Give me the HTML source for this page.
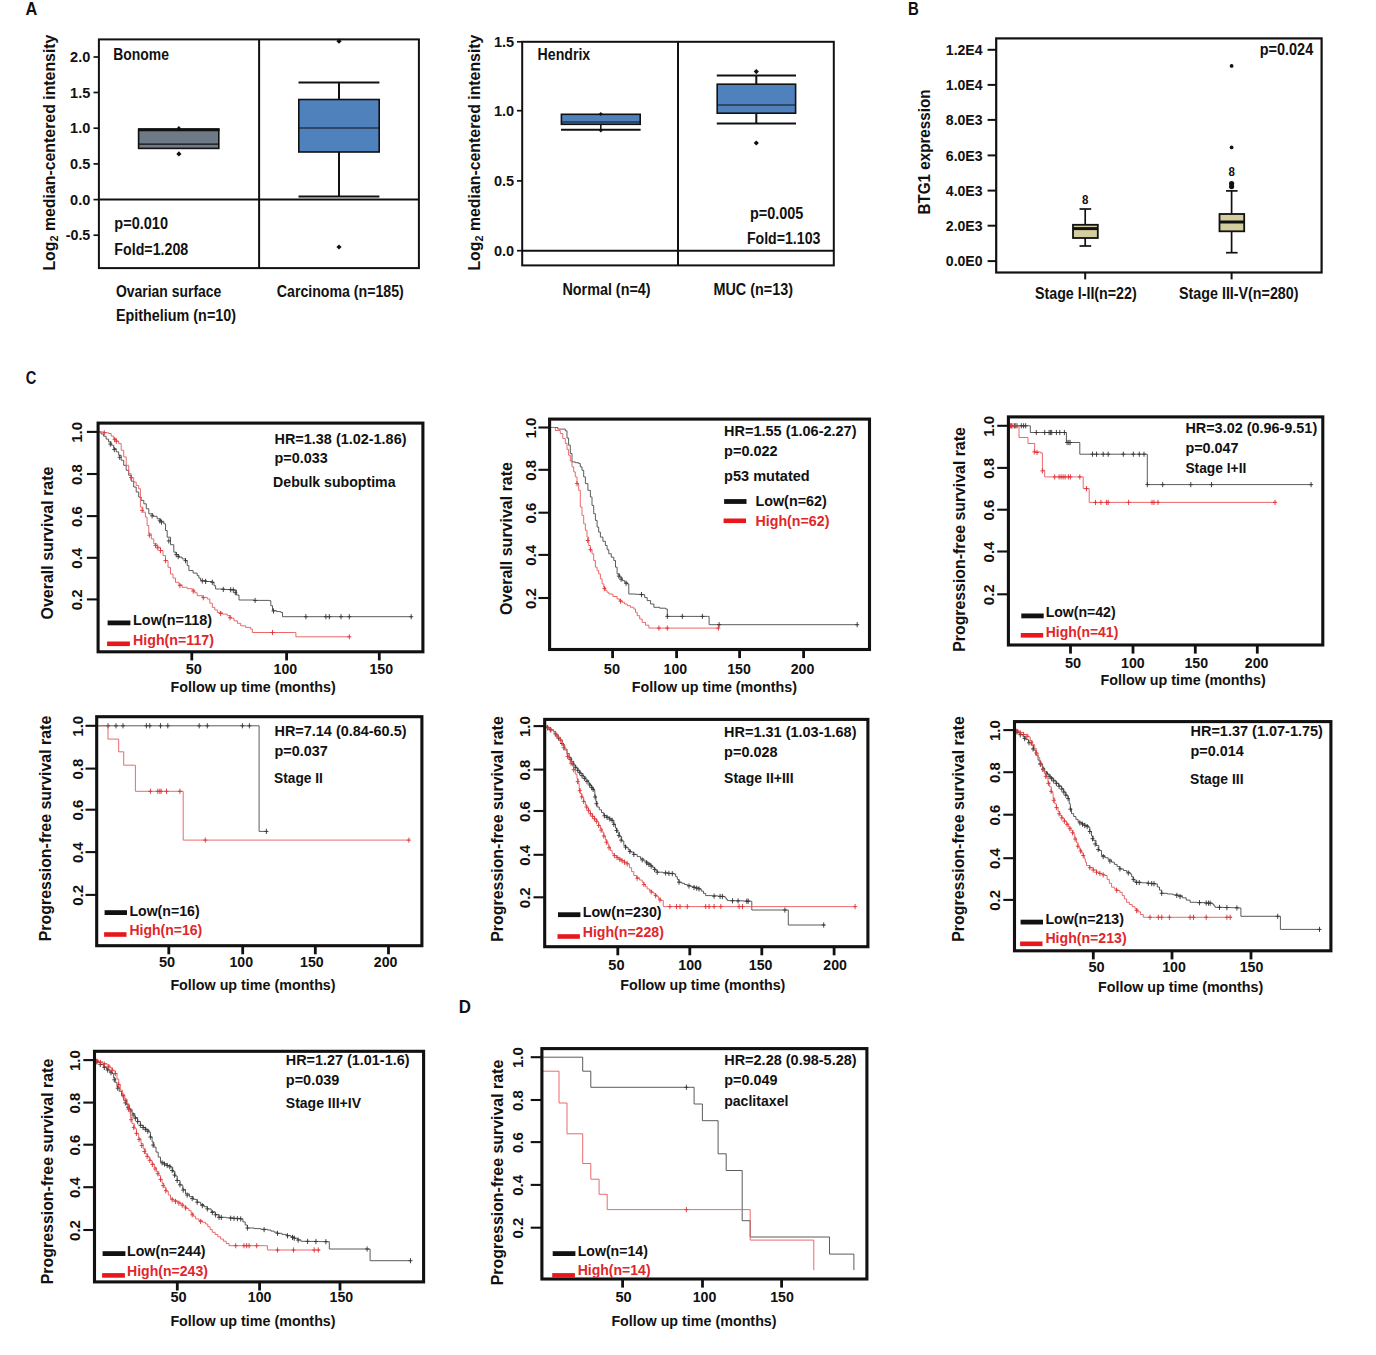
<!DOCTYPE html>
<html><head><meta charset="utf-8"><title>Figure</title>
<style>
html,body{margin:0;padding:0;background:#fff}
svg{display:block;font-family:"Liberation Sans",sans-serif;font-weight:bold}
</style></head><body>
<svg width="1376" height="1355" viewBox="0 0 1376 1355">
<rect width="1376" height="1355" fill="#fff"/>
<text x="25.5" y="15.0" font-size="17.6" fill="#111" text-anchor="start" textLength="11.8" lengthAdjust="spacingAndGlyphs">A</text>
<text x="908.0" y="15.0" font-size="17.6" fill="#111" text-anchor="start" textLength="10.8" lengthAdjust="spacingAndGlyphs">B</text>
<text x="25.7" y="384.4" font-size="17.6" fill="#111" text-anchor="start" textLength="10.6" lengthAdjust="spacingAndGlyphs">C</text>
<text x="458.7" y="1013.0" font-size="17.6" fill="#111" text-anchor="start" textLength="12.2" lengthAdjust="spacingAndGlyphs">D</text>
<rect x="98.9" y="39.4" width="320.0" height="228.7" fill="none" stroke="#111" stroke-width="2"/>
<line x1="259.1" y1="39.4" x2="259.1" y2="268.1" stroke="#111" stroke-width="2" stroke-linecap="butt"/>
<line x1="98.9" y1="199.6" x2="418.9" y2="199.6" stroke="#111" stroke-width="2" stroke-linecap="butt"/>
<line x1="93.5" y1="57.0" x2="98.9" y2="57.0" stroke="#111" stroke-width="1.7" stroke-linecap="butt"/>
<text x="90.3" y="62.1" font-size="15.2" fill="#111" text-anchor="end" textLength="20.2" lengthAdjust="spacingAndGlyphs">2.0</text>
<line x1="93.5" y1="92.5" x2="98.9" y2="92.5" stroke="#111" stroke-width="1.7" stroke-linecap="butt"/>
<text x="90.3" y="97.6" font-size="15.2" fill="#111" text-anchor="end" textLength="20.2" lengthAdjust="spacingAndGlyphs">1.5</text>
<line x1="93.5" y1="128.2" x2="98.9" y2="128.2" stroke="#111" stroke-width="1.7" stroke-linecap="butt"/>
<text x="90.3" y="133.3" font-size="15.2" fill="#111" text-anchor="end" textLength="20.2" lengthAdjust="spacingAndGlyphs">1.0</text>
<line x1="93.5" y1="163.9" x2="98.9" y2="163.9" stroke="#111" stroke-width="1.7" stroke-linecap="butt"/>
<text x="90.3" y="169.0" font-size="15.2" fill="#111" text-anchor="end" textLength="20.2" lengthAdjust="spacingAndGlyphs">0.5</text>
<line x1="93.5" y1="199.6" x2="98.9" y2="199.6" stroke="#111" stroke-width="1.7" stroke-linecap="butt"/>
<text x="90.3" y="204.7" font-size="15.2" fill="#111" text-anchor="end" textLength="20.2" lengthAdjust="spacingAndGlyphs">0.0</text>
<line x1="93.5" y1="235.2" x2="98.9" y2="235.2" stroke="#111" stroke-width="1.7" stroke-linecap="butt"/>
<text x="90.3" y="240.3" font-size="15.2" fill="#111" text-anchor="end" textLength="24.6" lengthAdjust="spacingAndGlyphs">-0.5</text>
<text transform="translate(55.1,152.6) rotate(-90)" font-size="16" fill="#111" text-anchor="middle" textLength="236.0" lengthAdjust="spacingAndGlyphs">Log<tspan font-size="11" dy="3">2</tspan><tspan dy="-3"> median-centered intensity</tspan></text>
<text x="113.3" y="60.0" font-size="16" fill="#111" text-anchor="start" textLength="55.6" lengthAdjust="spacingAndGlyphs">Bonome</text>
<text x="114.3" y="228.9" font-size="16" fill="#111" text-anchor="start" textLength="53.7" lengthAdjust="spacingAndGlyphs">p=0.010</text>
<text x="114.3" y="255.2" font-size="16" fill="#111" text-anchor="start" textLength="74.0" lengthAdjust="spacingAndGlyphs">Fold=1.208</text>
<text x="116.0" y="296.8" font-size="16" fill="#111" text-anchor="start" textLength="105.3" lengthAdjust="spacingAndGlyphs">Ovarian surface</text>
<text x="116.0" y="320.7" font-size="16" fill="#111" text-anchor="start" textLength="120.0" lengthAdjust="spacingAndGlyphs">Epithelium (n=10)</text>
<text x="276.8" y="296.6" font-size="16" fill="#111" text-anchor="start" textLength="127.0" lengthAdjust="spacingAndGlyphs">Carcinoma (n=185)</text>
<rect x="138.6" y="129.2" width="80.2" height="19.2" fill="#6e7a86" stroke="#111" stroke-width="1.6"/>
<line x1="138.0" y1="129.8" x2="219.5" y2="129.8" stroke="#111" stroke-width="3" stroke-linecap="butt"/>
<line x1="138.6" y1="144.2" x2="218.8" y2="144.2" stroke="#111" stroke-width="1.2" stroke-linecap="butt"/>
<polygon points="176.7,128.3 178.9,126.1 181.1,128.3 178.9,130.5" fill="#111"/>
<polygon points="176.3,153.9 178.9,151.3 181.5,153.9 178.9,156.5" fill="#111"/>
<line x1="339.0" y1="82.6" x2="339.0" y2="196.6" stroke="#111" stroke-width="2" stroke-linecap="butt"/>
<line x1="298.5" y1="82.6" x2="379.4" y2="82.6" stroke="#111" stroke-width="2" stroke-linecap="butt"/>
<line x1="298.5" y1="196.6" x2="379.4" y2="196.6" stroke="#111" stroke-width="2" stroke-linecap="butt"/>
<rect x="298.8" y="99.5" width="80.4" height="52.5" fill="#4f81bd" stroke="#111" stroke-width="1.6"/>
<line x1="298.8" y1="128.0" x2="379.2" y2="128.0" stroke="#111" stroke-width="1.2" stroke-linecap="butt"/>
<polygon points="336.4,41.2 339.0,38.6 341.6,41.2 339.0,43.8" fill="#111"/>
<polygon points="336.4,247.0 339.0,244.4 341.6,247.0 339.0,249.6" fill="#111"/>
<rect x="522.2" y="41.8" width="311.6" height="223.6" fill="none" stroke="#111" stroke-width="2"/>
<line x1="678.0" y1="41.8" x2="678.0" y2="265.4" stroke="#111" stroke-width="2" stroke-linecap="butt"/>
<line x1="522.2" y1="250.7" x2="833.8" y2="250.7" stroke="#111" stroke-width="2" stroke-linecap="butt"/>
<line x1="517.0" y1="41.8" x2="522.2" y2="41.8" stroke="#111" stroke-width="1.7" stroke-linecap="butt"/>
<text x="514.2" y="46.9" font-size="15.2" fill="#111" text-anchor="end" textLength="20.2" lengthAdjust="spacingAndGlyphs">1.5</text>
<line x1="517.0" y1="110.7" x2="522.2" y2="110.7" stroke="#111" stroke-width="1.7" stroke-linecap="butt"/>
<text x="514.2" y="115.8" font-size="15.2" fill="#111" text-anchor="end" textLength="20.2" lengthAdjust="spacingAndGlyphs">1.0</text>
<line x1="517.0" y1="180.9" x2="522.2" y2="180.9" stroke="#111" stroke-width="1.7" stroke-linecap="butt"/>
<text x="514.2" y="186.0" font-size="15.2" fill="#111" text-anchor="end" textLength="20.2" lengthAdjust="spacingAndGlyphs">0.5</text>
<line x1="517.0" y1="250.7" x2="522.2" y2="250.7" stroke="#111" stroke-width="1.7" stroke-linecap="butt"/>
<text x="514.2" y="255.8" font-size="15.2" fill="#111" text-anchor="end" textLength="20.2" lengthAdjust="spacingAndGlyphs">0.0</text>
<text transform="translate(480.1,152.6) rotate(-90)" font-size="16" fill="#111" text-anchor="middle" textLength="236.0" lengthAdjust="spacingAndGlyphs">Log<tspan font-size="11" dy="3">2</tspan><tspan dy="-3"> median-centered intensity</tspan></text>
<text x="537.6" y="60.0" font-size="16" fill="#111" text-anchor="start" textLength="52.6" lengthAdjust="spacingAndGlyphs">Hendrix</text>
<text x="749.9" y="219.0" font-size="16" fill="#111" text-anchor="start" textLength="53.4" lengthAdjust="spacingAndGlyphs">p=0.005</text>
<text x="746.9" y="243.6" font-size="16" fill="#111" text-anchor="start" textLength="73.5" lengthAdjust="spacingAndGlyphs">Fold=1.103</text>
<text x="562.4" y="294.9" font-size="16" fill="#111" text-anchor="start" textLength="88.2" lengthAdjust="spacingAndGlyphs">Normal (n=4)</text>
<text x="713.5" y="294.9" font-size="16" fill="#111" text-anchor="start" textLength="79.5" lengthAdjust="spacingAndGlyphs">MUC (n=13)</text>
<line x1="600.8" y1="114.0" x2="600.8" y2="130.0" stroke="#111" stroke-width="1.5" stroke-linecap="butt"/>
<line x1="561.0" y1="129.7" x2="640.6" y2="129.7" stroke="#111" stroke-width="2" stroke-linecap="butt"/>
<rect x="561.4" y="114.3" width="78.8" height="10.0" fill="#4f81bd" stroke="#111" stroke-width="1.6"/>
<line x1="561.4" y1="122.0" x2="640.2" y2="122.0" stroke="#111" stroke-width="1.2" stroke-linecap="butt"/>
<polygon points="598.8,114.0 600.8,112.0 602.8,114.0 600.8,116.0" fill="#111"/>
<polygon points="598.8,130.6 600.8,128.7 602.8,130.6 600.8,132.5" fill="#111"/>
<line x1="756.3" y1="75.6" x2="756.3" y2="123.4" stroke="#111" stroke-width="2" stroke-linecap="butt"/>
<line x1="716.8" y1="75.6" x2="796.0" y2="75.6" stroke="#111" stroke-width="2" stroke-linecap="butt"/>
<line x1="716.8" y1="123.4" x2="796.0" y2="123.4" stroke="#111" stroke-width="2" stroke-linecap="butt"/>
<rect x="717.2" y="84.2" width="78.4" height="29.0" fill="#4f81bd" stroke="#111" stroke-width="1.6"/>
<line x1="717.2" y1="105.0" x2="795.6" y2="105.0" stroke="#111" stroke-width="1" stroke-linecap="butt"/>
<polygon points="753.7,71.6 756.3,69.0 758.9,71.6 756.3,74.2" fill="#111"/>
<polygon points="753.7,143.0 756.3,140.4 758.9,143.0 756.3,145.6" fill="#111"/>
<rect x="996.2" y="38.4" width="325.4" height="234.1" fill="none" stroke="#111" stroke-width="2.2"/>
<line x1="987.6" y1="49.8" x2="996.2" y2="49.8" stroke="#111" stroke-width="2" stroke-linecap="butt"/>
<text x="945.8" y="55.0" font-size="15.2" fill="#111" text-anchor="start" textLength="36.8" lengthAdjust="spacingAndGlyphs">1.2E4</text>
<line x1="987.6" y1="84.9" x2="996.2" y2="84.9" stroke="#111" stroke-width="2" stroke-linecap="butt"/>
<text x="945.8" y="90.1" font-size="15.2" fill="#111" text-anchor="start" textLength="36.8" lengthAdjust="spacingAndGlyphs">1.0E4</text>
<line x1="987.6" y1="119.9" x2="996.2" y2="119.9" stroke="#111" stroke-width="2" stroke-linecap="butt"/>
<text x="945.8" y="125.1" font-size="15.2" fill="#111" text-anchor="start" textLength="36.8" lengthAdjust="spacingAndGlyphs">8.0E3</text>
<line x1="987.6" y1="155.4" x2="996.2" y2="155.4" stroke="#111" stroke-width="2" stroke-linecap="butt"/>
<text x="945.8" y="160.6" font-size="15.2" fill="#111" text-anchor="start" textLength="36.8" lengthAdjust="spacingAndGlyphs">6.0E3</text>
<line x1="987.6" y1="190.6" x2="996.2" y2="190.6" stroke="#111" stroke-width="2" stroke-linecap="butt"/>
<text x="945.8" y="195.8" font-size="15.2" fill="#111" text-anchor="start" textLength="36.8" lengthAdjust="spacingAndGlyphs">4.0E3</text>
<line x1="987.6" y1="225.7" x2="996.2" y2="225.7" stroke="#111" stroke-width="2" stroke-linecap="butt"/>
<text x="945.8" y="230.9" font-size="15.2" fill="#111" text-anchor="start" textLength="36.8" lengthAdjust="spacingAndGlyphs">2.0E3</text>
<line x1="987.6" y1="261.1" x2="996.2" y2="261.1" stroke="#111" stroke-width="2" stroke-linecap="butt"/>
<text x="945.8" y="266.3" font-size="15.2" fill="#111" text-anchor="start" textLength="36.8" lengthAdjust="spacingAndGlyphs">0.0E0</text>
<text transform="translate(929.6,152.0) rotate(-90)" font-size="16.2" fill="#111" text-anchor="middle" textLength="125.0" lengthAdjust="spacingAndGlyphs">BTG1 expression</text>
<text x="1259.7" y="54.6" font-size="16" fill="#111" text-anchor="start" textLength="53.5" lengthAdjust="spacingAndGlyphs">p=0.024</text>
<line x1="1085.2" y1="272.5" x2="1085.2" y2="279.4" stroke="#111" stroke-width="2" stroke-linecap="butt"/>
<line x1="1231.6" y1="272.5" x2="1231.6" y2="279.4" stroke="#111" stroke-width="2" stroke-linecap="butt"/>
<text x="1035.0" y="298.6" font-size="16" fill="#111" text-anchor="start" textLength="101.7" lengthAdjust="spacingAndGlyphs">Stage I-II(n=22)</text>
<text x="1179.1" y="298.6" font-size="16" fill="#111" text-anchor="start" textLength="119.4" lengthAdjust="spacingAndGlyphs">Stage III-V(n=280)</text>
<line x1="1085.2" y1="209.0" x2="1085.2" y2="246.0" stroke="#111" stroke-width="1.7" stroke-linecap="butt"/>
<line x1="1079.5" y1="209.0" x2="1091.2" y2="209.0" stroke="#111" stroke-width="1.7" stroke-linecap="butt"/>
<line x1="1079.5" y1="246.0" x2="1091.2" y2="246.0" stroke="#111" stroke-width="1.7" stroke-linecap="butt"/>
<rect x="1073.0" y="224.8" width="24.8" height="13.2" fill="#d3cda0" stroke="#111" stroke-width="1.8"/>
<line x1="1073.0" y1="228.6" x2="1097.8" y2="228.6" stroke="#111" stroke-width="3" stroke-linecap="butt"/>
<text x="1085.2" y="203.6" font-size="12.5" fill="#111" text-anchor="middle" textLength="6.4" lengthAdjust="spacingAndGlyphs">8</text>
<line x1="1231.6" y1="190.9" x2="1231.6" y2="252.7" stroke="#111" stroke-width="1.7" stroke-linecap="butt"/>
<line x1="1226.0" y1="190.9" x2="1237.6" y2="190.9" stroke="#111" stroke-width="1.7" stroke-linecap="butt"/>
<line x1="1226.0" y1="252.7" x2="1237.6" y2="252.7" stroke="#111" stroke-width="1.7" stroke-linecap="butt"/>
<rect x="1219.5" y="214.0" width="24.7" height="17.3" fill="#d3cda0" stroke="#111" stroke-width="1.8"/>
<line x1="1219.5" y1="222.0" x2="1244.2" y2="222.0" stroke="#111" stroke-width="3" stroke-linecap="butt"/>
<text x="1231.6" y="175.8" font-size="12.5" fill="#111" text-anchor="middle" textLength="6.4" lengthAdjust="spacingAndGlyphs">8</text>
<circle cx="1231.6" cy="183.5" r="2.6" fill="#111"/>
<circle cx="1231.6" cy="186.6" r="2.6" fill="#111"/>
<circle cx="1231.6" cy="65.9" r="1.9" fill="#111"/>
<circle cx="1231.6" cy="147.4" r="1.9" fill="#111"/>
<path d="M98.6,431.9 L101.1,431.9 L101.1,434.0 L103.6,434.0 L103.6,436.2 L106.1,436.2 L106.1,439.1 L108.6,439.1 L108.6,441.9 L111.2,441.9 L111.2,445.2 L113.7,445.2 L113.7,448.6 L116.2,448.6 L116.2,451.9 L118.7,451.9 L118.7,455.3 L121.2,455.3 L121.2,460.3 L123.7,460.3 L123.7,465.3 L126.2,465.3 L126.2,470.3 L128.7,470.3 L128.7,475.3 L131.2,475.3 L131.2,481.2 L133.7,481.2 L133.7,487.0 L136.2,487.0 L136.2,492.0 L138.7,492.0 L138.7,497.1 L141.2,497.1 L141.2,500.4 L143.8,500.4 L143.8,503.8 L146.3,503.8 L146.3,508.8 L148.8,508.8 L148.8,513.8 L152.9,513.8 L152.9,516.3 L157.1,516.3 L157.1,518.8 L160.5,518.8 L160.5,521.3 L163.8,521.3 L163.8,523.8 L165.5,523.8 L165.5,530.5 L167.2,530.5 L167.2,537.2 L170.5,537.2 L170.5,544.7 L173.8,544.7 L173.8,552.2 L176.3,552.2 L176.3,554.7 L178.9,554.7 L178.9,557.2 L182.2,557.2 L182.2,558.9 L185.5,558.9 L185.5,560.6 L187.2,560.6 L187.2,565.6 L188.9,565.6 L188.9,570.6 L193.1,570.6 L193.1,573.1 L197.2,573.1 L197.2,575.6 L198.9,575.6 L198.9,578.1 L200.6,578.1 L200.6,580.6 L206.4,580.6 L206.4,581.5 L212.3,581.5 L212.3,582.3 L214.0,582.3 L214.0,585.7 L215.6,585.7 L215.6,589.0 L224.8,589.0 L224.8,589.5 L234.0,589.5 L234.0,590.0 L236.5,590.0 L236.5,595.0 L239.0,595.0 L239.0,600.0 L254.1,600.0 L254.1,600.4 L269.1,600.4 L269.1,600.7 L270.8,600.7 L270.8,605.7 L272.5,605.7 L272.5,610.7 L276.6,610.7 L276.6,611.6 L280.8,611.6 L280.8,612.4 L282.5,612.4 L282.5,616.7 L411.9,616.7" fill="none" stroke="#4a4a4a" stroke-width="0.9" stroke-linejoin="miter"/>
<path d="M108.3,444.1h4M110.3,441.5v5.2M112.3,449.5h4M114.3,446.9v5.2M117.7,457.3h4M119.7,454.7v5.2M150.1,515.8h4M152.1,513.2v5.2M157.8,520.8h4M159.8,518.2v5.2M159.5,522.1h4M161.5,519.5v5.2M166.8,540.9h4M168.8,538.3v5.2M174.2,554.6h4M176.2,552.0v5.2M176.2,556.6h4M178.2,554.0v5.2M183.5,560.6h4M185.5,558.0v5.2M200.3,580.9h4M202.3,578.3v5.2M203.6,581.4h4M205.6,578.8v5.2M210.3,582.3h4M212.3,579.7v5.2M221.3,589.4h4M223.3,586.8v5.2M228.7,589.8h4M230.7,587.2v5.2M231.3,590.0h4M233.3,587.4v5.2M233.3,592.7h4M235.3,590.1v5.2M253.1,600.4h4M255.1,597.8v5.2M271.5,610.9h4M273.5,608.3v5.2M303.9,616.7h4M305.9,614.1v5.2M323.9,616.7h4M325.9,614.1v5.2M327.3,616.7h4M329.3,614.1v5.2M339.0,616.7h4M341.0,614.1v5.2M347.3,616.7h4M349.3,614.1v5.2M409.2,616.7h4M411.2,614.1v5.2" fill="none" stroke="#333" stroke-width="0.9"/>
<path d="M98.6,431.9 L103.6,431.9 L103.6,432.7 L108.6,432.7 L108.6,433.5 L111.2,433.5 L111.2,436.1 L113.7,436.1 L113.7,438.6 L116.2,438.6 L116.2,441.1 L118.7,441.1 L118.7,443.6 L121.2,443.6 L121.2,450.3 L123.7,450.3 L123.7,456.9 L126.2,456.9 L126.2,465.3 L128.7,465.3 L128.7,473.7 L131.2,473.7 L131.2,477.8 L133.7,477.8 L133.7,482.0 L136.2,482.0 L136.2,485.4 L138.7,485.4 L138.7,488.7 L140.4,488.7 L140.4,507.1 L142.9,507.1 L142.9,512.1 L145.4,512.1 L145.4,517.1 L147.1,517.1 L147.1,525.5 L148.8,525.5 L148.8,533.8 L151.3,533.8 L151.3,538.9 L153.8,538.9 L153.8,543.9 L157.1,543.9 L157.1,547.2 L160.5,547.2 L160.5,550.6 L163.0,550.6 L163.0,555.6 L165.5,555.6 L165.5,560.6 L168.0,560.6 L168.0,567.3 L170.5,567.3 L170.5,574.0 L173.0,574.0 L173.0,578.1 L175.5,578.1 L175.5,582.3 L178.9,582.3 L178.9,584.8 L182.2,584.8 L182.2,587.3 L187.2,587.3 L187.2,588.7 L192.2,588.7 L192.2,590.0 L194.7,590.0 L194.7,592.8 L197.2,592.8 L197.2,595.7 L202.3,595.7 L202.3,597.4 L207.3,597.4 L207.3,599.0 L209.8,599.0 L209.8,603.2 L212.3,603.2 L212.3,607.4 L214.8,607.4 L214.8,609.9 L217.3,609.9 L217.3,612.4 L222.3,612.4 L222.3,614.1 L227.3,614.1 L227.3,615.7 L230.7,615.7 L230.7,618.2 L234.0,618.2 L234.0,620.8 L237.4,620.8 L237.4,623.3 L240.7,623.3 L240.7,625.8 L245.7,625.8 L245.7,627.4 L250.7,627.4 L250.7,629.1 L252.4,629.1 L252.4,632.5 L294.2,632.5 L295.9,632.5 L295.9,636.8 L350.3,636.8" fill="none" stroke="#e85a5c" stroke-width="0.9" stroke-linejoin="miter"/>
<path d="M102.3,432.8h4M104.3,430.2v5.2M112.7,439.6h4M114.7,437.0v5.2M114.3,441.2h4M116.3,438.6v5.2M129.0,477.6h4M131.0,475.0v5.2M140.1,510.4h4M142.1,507.8v5.2M147.4,535.2h4M149.4,532.6v5.2M153.5,545.5h4M155.5,542.9v5.2M155.8,547.9h4M157.8,545.3v5.2M158.5,550.6h4M160.5,548.0v5.2M163.5,560.6h4M165.5,558.0v5.2M177.9,585.6h4M179.9,583.0v5.2M191.2,591.1h4M193.2,588.5v5.2M201.3,597.7h4M203.3,595.1v5.2M218.6,613.5h4M220.6,610.9v5.2M228.0,617.7h4M230.0,615.1v5.2M270.5,632.5h4M272.5,629.9v5.2M347.3,636.8h4M349.3,634.2v5.2" fill="none" stroke="#e03034" stroke-width="0.9"/>
<rect x="98.1" y="423.1" width="324.8" height="228.7" fill="none" stroke="#111" stroke-width="3.1"/>
<line x1="86.9" y1="431.9" x2="98.1" y2="431.9" stroke="#111" stroke-width="2.1" stroke-linecap="butt"/>
<text transform="translate(81.8,432.4) rotate(-90)" font-size="15.2" fill="#111" text-anchor="middle" textLength="20.8" lengthAdjust="spacingAndGlyphs">1.0</text>
<line x1="86.9" y1="474.0" x2="98.1" y2="474.0" stroke="#111" stroke-width="2.1" stroke-linecap="butt"/>
<text transform="translate(81.8,474.5) rotate(-90)" font-size="15.2" fill="#111" text-anchor="middle" textLength="20.8" lengthAdjust="spacingAndGlyphs">0.8</text>
<line x1="86.9" y1="516.1" x2="98.1" y2="516.1" stroke="#111" stroke-width="2.1" stroke-linecap="butt"/>
<text transform="translate(81.8,516.6) rotate(-90)" font-size="15.2" fill="#111" text-anchor="middle" textLength="20.8" lengthAdjust="spacingAndGlyphs">0.6</text>
<line x1="86.9" y1="557.8" x2="98.1" y2="557.8" stroke="#111" stroke-width="2.1" stroke-linecap="butt"/>
<text transform="translate(81.8,558.3) rotate(-90)" font-size="15.2" fill="#111" text-anchor="middle" textLength="20.8" lengthAdjust="spacingAndGlyphs">0.4</text>
<line x1="86.9" y1="599.4" x2="98.1" y2="599.4" stroke="#111" stroke-width="2.1" stroke-linecap="butt"/>
<text transform="translate(81.8,599.9) rotate(-90)" font-size="15.2" fill="#111" text-anchor="middle" textLength="20.8" lengthAdjust="spacingAndGlyphs">0.2</text>
<text transform="translate(52.6,543.0) rotate(-90)" font-size="16.5" fill="#111" text-anchor="middle" textLength="153.0" lengthAdjust="spacingAndGlyphs">Overall survival rate</text>
<line x1="191.8" y1="651.8" x2="191.8" y2="660.4" stroke="#111" stroke-width="2.8" stroke-linecap="butt"/>
<text x="193.8" y="673.8" font-size="15.2" fill="#111" text-anchor="middle" textLength="16.2" lengthAdjust="spacingAndGlyphs">50</text>
<line x1="286.6" y1="651.8" x2="286.6" y2="660.4" stroke="#111" stroke-width="2.8" stroke-linecap="butt"/>
<text x="285.4" y="673.8" font-size="15.2" fill="#111" text-anchor="middle" textLength="23.6" lengthAdjust="spacingAndGlyphs">100</text>
<line x1="379.3" y1="651.8" x2="379.3" y2="660.4" stroke="#111" stroke-width="2.8" stroke-linecap="butt"/>
<text x="381.3" y="673.8" font-size="15.2" fill="#111" text-anchor="middle" textLength="23.6" lengthAdjust="spacingAndGlyphs">150</text>
<text x="170.6" y="691.9" font-size="15" fill="#111" text-anchor="start" textLength="165.2" lengthAdjust="spacingAndGlyphs">Follow up time (months)</text>
<text x="274.5" y="443.6" font-size="15.2" fill="#111" text-anchor="start" textLength="132.0" lengthAdjust="spacingAndGlyphs">HR=1.38 (1.02-1.86)</text>
<text x="274.5" y="463.4" font-size="15.2" fill="#111" text-anchor="start" textLength="53.2" lengthAdjust="spacingAndGlyphs">p=0.033</text>
<text x="273.1" y="487.2" font-size="15.2" fill="#111" text-anchor="start" textLength="122.4" lengthAdjust="spacingAndGlyphs">Debulk suboptima</text>
<rect x="107.6" y="620.5" width="22.8" height="4.8" fill="#111"/>
<rect x="107.1" y="641.5" width="22.8" height="4.6" fill="#e8171c"/>
<text x="133.0" y="625.3" font-size="14.8" fill="#111" text-anchor="start" textLength="79.0" lengthAdjust="spacingAndGlyphs">Low(n=118)</text>
<text x="133.0" y="644.8" font-size="14.8" fill="#e0262a" text-anchor="start" textLength="81.0" lengthAdjust="spacingAndGlyphs">High(n=117)</text>
<path d="M550.3,427.5 L557.8,427.5 L557.8,429.1 L565.3,429.1 L565.3,430.8 L567.0,430.8 L567.0,438.0 L568.6,438.0 L568.6,445.2 L570.3,445.2 L570.3,453.5 L572.0,453.5 L572.0,461.9 L575.3,461.9 L575.3,462.7 L578.7,462.7 L578.7,463.6 L580.3,463.6 L580.3,466.9 L582.0,466.9 L582.0,470.3 L583.7,470.3 L583.7,476.9 L585.4,476.9 L585.4,483.6 L587.9,483.6 L587.9,490.3 L590.4,490.3 L590.4,497.0 L592.0,497.0 L592.0,505.4 L593.7,505.4 L593.7,513.7 L595.4,513.7 L595.4,520.4 L597.1,520.4 L597.1,527.1 L598.7,527.1 L598.7,532.1 L600.4,532.1 L600.4,537.1 L602.9,537.1 L602.9,541.3 L605.4,541.3 L605.4,545.5 L607.1,545.5 L607.1,549.7 L608.8,549.7 L608.8,553.8 L611.3,553.8 L611.3,557.2 L613.8,557.2 L613.8,560.5 L615.5,560.5 L615.5,567.2 L617.1,567.2 L617.1,573.9 L619.6,573.9 L619.6,577.2 L622.1,577.2 L622.1,580.6 L624.6,580.6 L624.6,582.3 L627.2,582.3 L627.2,583.9 L628.8,583.9 L628.8,594.0 L635.5,594.0 L635.5,594.3 L642.2,594.3 L642.2,594.6 L644.7,594.6 L644.7,597.6 L647.2,597.6 L647.2,600.6 L650.6,600.6 L650.6,604.0 L653.9,604.0 L653.9,607.3 L659.7,607.3 L659.7,608.2 L665.6,608.2 L665.6,609.0 L667.3,609.0 L667.3,616.4 L707.4,616.4 L709.1,616.4 L709.1,624.7 L857.8,624.7" fill="none" stroke="#4a4a4a" stroke-width="0.9" stroke-linejoin="miter"/>
<path d="M616.8,576.1h4M618.8,573.5v5.2M619.1,579.2h4M621.1,576.6v5.2M624.1,583.3h4M626.1,580.7v5.2M639.5,594.6h4M641.5,592.0v5.2M665.3,616.4h4M667.3,613.8v5.2M680.3,616.4h4M682.3,613.8v5.2M700.4,616.4h4M702.4,613.8v5.2M717.1,624.7h4M719.1,622.1v5.2M855.2,624.7h4M857.2,622.1v5.2" fill="none" stroke="#333" stroke-width="0.9"/>
<path d="M550.3,427.5 L555.3,427.5 L555.3,430.5 L560.3,430.5 L560.3,433.5 L562.8,433.5 L562.8,438.5 L565.3,438.5 L565.3,443.5 L567.0,443.5 L567.0,449.4 L568.6,449.4 L568.6,455.2 L570.3,455.2 L570.3,461.1 L572.0,461.1 L572.0,466.9 L573.7,466.9 L573.7,471.9 L575.3,471.9 L575.3,476.9 L577.0,476.9 L577.0,483.6 L578.7,483.6 L578.7,490.3 L580.3,490.3 L580.3,507.0 L582.0,507.0 L582.0,515.4 L583.7,515.4 L583.7,523.8 L585.4,523.8 L585.4,530.4 L587.0,530.4 L587.0,537.1 L588.7,537.1 L588.7,545.5 L590.4,545.5 L590.4,549.7 L592.0,549.7 L592.0,553.8 L593.7,553.8 L593.7,560.5 L595.4,560.5 L595.4,567.2 L597.1,567.2 L597.1,570.6 L598.7,570.6 L598.7,573.9 L600.4,573.9 L600.4,578.9 L602.1,578.9 L602.1,583.9 L603.8,583.9 L603.8,587.3 L605.4,587.3 L605.4,590.6 L607.1,590.6 L607.1,592.3 L608.8,592.3 L608.8,594.0 L612.9,594.0 L612.9,596.5 L617.1,596.5 L617.1,599.0 L619.6,599.0 L619.6,600.6 L622.1,600.6 L622.1,602.3 L624.6,602.3 L624.6,604.0 L627.2,604.0 L627.2,605.7 L630.5,605.7 L630.5,607.3 L633.8,607.3 L633.8,609.0 L635.5,609.0 L635.5,612.3 L637.2,612.3 L637.2,615.7 L639.7,615.7 L639.7,619.0 L642.2,619.0 L642.2,622.4 L645.5,622.4 L645.5,625.2 L648.9,625.2 L648.9,628.1 L719.1,628.1" fill="none" stroke="#e85a5c" stroke-width="0.9" stroke-linejoin="miter"/>
<path d="M575.0,483.6h4M577.0,481.0v5.2M585.7,540.5h4M587.7,537.9v5.2M588.4,549.7h4M590.4,547.1v5.2M602.4,588.6h4M604.4,586.0v5.2M618.5,601.2h4M620.5,598.6v5.2M656.9,628.1h4M658.9,625.5v5.2M665.3,628.1h4M667.3,625.5v5.2M716.4,628.1h4M718.4,625.5v5.2" fill="none" stroke="#e03034" stroke-width="0.9"/>
<rect x="549.6" y="419.1" width="319.9" height="230.4" fill="none" stroke="#111" stroke-width="3.1"/>
<line x1="538.4" y1="427.5" x2="549.6" y2="427.5" stroke="#111" stroke-width="2.1" stroke-linecap="butt"/>
<text transform="translate(535.8,428.0) rotate(-90)" font-size="15.2" fill="#111" text-anchor="middle" textLength="20.8" lengthAdjust="spacingAndGlyphs">1.0</text>
<line x1="538.4" y1="469.8" x2="549.6" y2="469.8" stroke="#111" stroke-width="2.1" stroke-linecap="butt"/>
<text transform="translate(535.8,470.3) rotate(-90)" font-size="15.2" fill="#111" text-anchor="middle" textLength="20.8" lengthAdjust="spacingAndGlyphs">0.8</text>
<line x1="538.4" y1="512.7" x2="549.6" y2="512.7" stroke="#111" stroke-width="2.1" stroke-linecap="butt"/>
<text transform="translate(535.8,513.2) rotate(-90)" font-size="15.2" fill="#111" text-anchor="middle" textLength="20.8" lengthAdjust="spacingAndGlyphs">0.6</text>
<line x1="538.4" y1="554.9" x2="549.6" y2="554.9" stroke="#111" stroke-width="2.1" stroke-linecap="butt"/>
<text transform="translate(535.8,555.4) rotate(-90)" font-size="15.2" fill="#111" text-anchor="middle" textLength="20.8" lengthAdjust="spacingAndGlyphs">0.4</text>
<line x1="538.4" y1="598.0" x2="549.6" y2="598.0" stroke="#111" stroke-width="2.1" stroke-linecap="butt"/>
<text transform="translate(535.8,598.5) rotate(-90)" font-size="15.2" fill="#111" text-anchor="middle" textLength="20.8" lengthAdjust="spacingAndGlyphs">0.2</text>
<text transform="translate(511.8,538.5) rotate(-90)" font-size="16.5" fill="#111" text-anchor="middle" textLength="153.0" lengthAdjust="spacingAndGlyphs">Overall survival rate</text>
<line x1="612.6" y1="649.5" x2="612.6" y2="658.1" stroke="#111" stroke-width="2.8" stroke-linecap="butt"/>
<text x="611.9" y="673.8" font-size="15.2" fill="#111" text-anchor="middle" textLength="16.2" lengthAdjust="spacingAndGlyphs">50</text>
<line x1="676.6" y1="649.5" x2="676.6" y2="658.1" stroke="#111" stroke-width="2.8" stroke-linecap="butt"/>
<text x="675.4" y="673.8" font-size="15.2" fill="#111" text-anchor="middle" textLength="23.6" lengthAdjust="spacingAndGlyphs">100</text>
<line x1="739.6" y1="649.5" x2="739.6" y2="658.1" stroke="#111" stroke-width="2.8" stroke-linecap="butt"/>
<text x="739.0" y="673.8" font-size="15.2" fill="#111" text-anchor="middle" textLength="23.6" lengthAdjust="spacingAndGlyphs">150</text>
<line x1="803.6" y1="649.5" x2="803.6" y2="658.1" stroke="#111" stroke-width="2.8" stroke-linecap="butt"/>
<text x="802.5" y="673.8" font-size="15.2" fill="#111" text-anchor="middle" textLength="23.6" lengthAdjust="spacingAndGlyphs">200</text>
<text x="631.8" y="691.9" font-size="15" fill="#111" text-anchor="start" textLength="165.2" lengthAdjust="spacingAndGlyphs">Follow up time (months)</text>
<text x="724.1" y="436.2" font-size="15.2" fill="#111" text-anchor="start" textLength="132.4" lengthAdjust="spacingAndGlyphs">HR=1.55 (1.06-2.27)</text>
<text x="724.1" y="456.0" font-size="15.2" fill="#111" text-anchor="start" textLength="53.5" lengthAdjust="spacingAndGlyphs">p=0.022</text>
<text x="724.1" y="481.1" font-size="15.2" fill="#111" text-anchor="start" textLength="85.6" lengthAdjust="spacingAndGlyphs">p53 mutated</text>
<rect x="724.1" y="499.1" width="22.4" height="4.8" fill="#111"/>
<rect x="723.6" y="518.5" width="22.4" height="4.6" fill="#e8171c"/>
<text x="755.5" y="506.4" font-size="14.8" fill="#111" text-anchor="start" textLength="71.2" lengthAdjust="spacingAndGlyphs">Low(n=62)</text>
<text x="755.5" y="525.8" font-size="14.8" fill="#e0262a" text-anchor="start" textLength="73.9" lengthAdjust="spacingAndGlyphs">High(n=62)</text>
<path d="M1008.9,425.8 L1029.7,425.8 L1030.3,425.8 L1030.3,432.5 L1065.8,432.5 L1066.4,432.5 L1066.4,442.5 L1079.1,442.5 L1079.8,442.5 L1079.8,454.2 L1146.0,454.2 L1147.3,454.2 L1147.3,484.6 L1312.1,484.6" fill="none" stroke="#4a4a4a" stroke-width="0.9" stroke-linejoin="miter"/>
<path d="M1009.3,425.8h4M1011.3,423.2v5.2M1012.6,425.8h4M1014.6,423.2v5.2M1015.0,425.8h4M1017.0,423.2v5.2M1019.3,425.8h4M1021.3,423.2v5.2M1021.6,425.8h4M1023.6,423.2v5.2M1023.7,425.8h4M1025.7,423.2v5.2M1034.3,432.5h4M1036.3,429.9v5.2M1042.7,432.5h4M1044.7,429.9v5.2M1047.1,432.5h4M1049.1,429.9v5.2M1048.4,432.5h4M1050.4,429.9v5.2M1049.7,432.5h4M1051.7,429.9v5.2M1054.4,432.5h4M1056.4,429.9v5.2M1057.8,432.5h4M1059.8,429.9v5.2M1062.4,432.5h4M1064.4,429.9v5.2M1065.1,442.5h4M1067.1,439.9v5.2M1066.8,442.5h4M1068.8,439.9v5.2M1068.1,442.5h4M1070.1,439.9v5.2M1090.5,454.2h4M1092.5,451.6v5.2M1094.5,454.2h4M1096.5,451.6v5.2M1101.2,454.2h4M1103.2,451.6v5.2M1106.2,454.2h4M1108.2,451.6v5.2M1121.3,454.2h4M1123.3,451.6v5.2M1131.3,454.2h4M1133.3,451.6v5.2M1137.3,454.2h4M1139.3,451.6v5.2M1142.0,454.2h4M1144.0,451.6v5.2M1145.3,484.6h4M1147.3,482.0v5.2M1160.7,484.6h4M1162.7,482.0v5.2M1188.8,484.6h4M1190.8,482.0v5.2M1209.5,484.6h4M1211.5,482.0v5.2M1309.1,484.6h4M1311.1,482.0v5.2" fill="none" stroke="#333" stroke-width="0.9"/>
<path d="M1008.9,425.8 L1018.0,425.8 L1019.0,425.8 L1019.0,437.5 L1026.3,437.5 L1028.0,437.5 L1028.0,443.5 L1033.0,443.5 L1034.7,443.5 L1034.7,451.9 L1040.4,451.9 L1040.4,452.9 L1042.4,452.9 L1042.4,470.3 L1044.7,470.3 L1044.7,476.9 L1081.5,476.9 L1083.2,476.9 L1083.2,488.6 L1088.2,488.6 L1089.2,488.6 L1089.2,502.4 L1277.0,502.4" fill="none" stroke="#e85a5c" stroke-width="0.9" stroke-linejoin="miter"/>
<path d="M1008.6,425.8h4M1010.6,423.2v5.2M1010.9,425.8h4M1012.9,423.2v5.2M1013.6,425.8h4M1015.6,423.2v5.2M1032.3,451.9h4M1034.3,449.3v5.2M1035.0,452.5h4M1037.0,449.9v5.2M1040.4,470.9h4M1042.4,468.3v5.2M1052.7,476.9h4M1054.7,474.3v5.2M1057.1,476.9h4M1059.1,474.3v5.2M1059.1,476.9h4M1061.1,474.3v5.2M1061.1,476.9h4M1063.1,474.3v5.2M1063.1,476.9h4M1065.1,474.3v5.2M1066.4,476.9h4M1068.4,474.3v5.2M1068.4,476.9h4M1070.4,474.3v5.2M1077.8,476.9h4M1079.8,474.3v5.2M1084.5,488.6h4M1086.5,486.0v5.2M1093.5,502.4h4M1095.5,499.8v5.2M1098.9,502.4h4M1100.9,499.8v5.2M1104.6,502.4h4M1106.6,499.8v5.2M1106.2,502.4h4M1108.2,499.8v5.2M1126.6,502.4h4M1128.6,499.8v5.2M1150.0,502.4h4M1152.0,499.8v5.2M1152.0,502.4h4M1154.0,499.8v5.2M1156.0,502.4h4M1158.0,499.8v5.2M1273.0,502.4h4M1275.0,499.8v5.2" fill="none" stroke="#e03034" stroke-width="0.9"/>
<rect x="1008.4" y="416.9" width="314.4" height="228.1" fill="none" stroke="#111" stroke-width="3.1"/>
<line x1="997.2" y1="425.8" x2="1008.4" y2="425.8" stroke="#111" stroke-width="2.1" stroke-linecap="butt"/>
<text transform="translate(994.1,426.3) rotate(-90)" font-size="15.2" fill="#111" text-anchor="middle" textLength="20.8" lengthAdjust="spacingAndGlyphs">1.0</text>
<line x1="997.2" y1="467.9" x2="1008.4" y2="467.9" stroke="#111" stroke-width="2.1" stroke-linecap="butt"/>
<text transform="translate(994.1,468.4) rotate(-90)" font-size="15.2" fill="#111" text-anchor="middle" textLength="20.8" lengthAdjust="spacingAndGlyphs">0.8</text>
<line x1="997.2" y1="509.7" x2="1008.4" y2="509.7" stroke="#111" stroke-width="2.1" stroke-linecap="butt"/>
<text transform="translate(994.1,510.2) rotate(-90)" font-size="15.2" fill="#111" text-anchor="middle" textLength="20.8" lengthAdjust="spacingAndGlyphs">0.6</text>
<line x1="997.2" y1="551.5" x2="1008.4" y2="551.5" stroke="#111" stroke-width="2.1" stroke-linecap="butt"/>
<text transform="translate(994.1,552.0) rotate(-90)" font-size="15.2" fill="#111" text-anchor="middle" textLength="20.8" lengthAdjust="spacingAndGlyphs">0.4</text>
<line x1="997.2" y1="594.3" x2="1008.4" y2="594.3" stroke="#111" stroke-width="2.1" stroke-linecap="butt"/>
<text transform="translate(994.1,594.8) rotate(-90)" font-size="15.2" fill="#111" text-anchor="middle" textLength="20.8" lengthAdjust="spacingAndGlyphs">0.2</text>
<text transform="translate(964.5,539.5) rotate(-90)" font-size="16.5" fill="#111" text-anchor="middle" textLength="224.5" lengthAdjust="spacingAndGlyphs">Progression-free survival rate</text>
<line x1="1070.5" y1="645.0" x2="1070.5" y2="653.6" stroke="#111" stroke-width="2.8" stroke-linecap="butt"/>
<text x="1073.1" y="668.0" font-size="15.2" fill="#111" text-anchor="middle" textLength="16.2" lengthAdjust="spacingAndGlyphs">50</text>
<line x1="1133.0" y1="645.0" x2="1133.0" y2="653.6" stroke="#111" stroke-width="2.8" stroke-linecap="butt"/>
<text x="1132.9" y="668.0" font-size="15.2" fill="#111" text-anchor="middle" textLength="23.6" lengthAdjust="spacingAndGlyphs">100</text>
<line x1="1195.3" y1="645.0" x2="1195.3" y2="653.6" stroke="#111" stroke-width="2.8" stroke-linecap="butt"/>
<text x="1196.3" y="668.0" font-size="15.2" fill="#111" text-anchor="middle" textLength="23.6" lengthAdjust="spacingAndGlyphs">150</text>
<line x1="1257.3" y1="645.0" x2="1257.3" y2="653.6" stroke="#111" stroke-width="2.8" stroke-linecap="butt"/>
<text x="1256.6" y="668.0" font-size="15.2" fill="#111" text-anchor="middle" textLength="23.6" lengthAdjust="spacingAndGlyphs">200</text>
<text x="1100.6" y="684.7" font-size="15" fill="#111" text-anchor="start" textLength="165.2" lengthAdjust="spacingAndGlyphs">Follow up time (months)</text>
<text x="1185.4" y="432.8" font-size="15.2" fill="#111" text-anchor="start" textLength="131.8" lengthAdjust="spacingAndGlyphs">HR=3.02 (0.96-9.51)</text>
<text x="1185.4" y="452.7" font-size="15.2" fill="#111" text-anchor="start" textLength="53.2" lengthAdjust="spacingAndGlyphs">p=0.047</text>
<text x="1185.4" y="472.7" font-size="15.2" fill="#111" text-anchor="start" textLength="60.9" lengthAdjust="spacingAndGlyphs">Stage I+II</text>
<rect x="1021.3" y="613.5" width="22.4" height="4.8" fill="#111"/>
<rect x="1020.8" y="633.0" width="22.4" height="4.6" fill="#e8171c"/>
<text x="1045.7" y="617.4" font-size="14.8" fill="#111" text-anchor="start" textLength="69.9" lengthAdjust="spacingAndGlyphs">Low(n=42)</text>
<text x="1045.7" y="636.7" font-size="14.8" fill="#e0262a" text-anchor="start" textLength="72.6" lengthAdjust="spacingAndGlyphs">High(n=41)</text>
<path d="M96.9,725.8 L259.1,725.8 L259.1,831.4 L267.4,831.4" fill="none" stroke="#4a4a4a" stroke-width="0.9" stroke-linejoin="miter"/>
<path d="M106.0,725.8h4M108.0,723.2v5.2M114.0,725.8h4M116.0,723.2v5.2M121.0,725.8h4M123.0,723.2v5.2M144.4,725.8h4M146.4,723.2v5.2M147.8,725.8h4M149.8,723.2v5.2M158.5,725.8h4M160.5,723.2v5.2M165.8,725.8h4M167.8,723.2v5.2M197.2,725.8h4M199.2,723.2v5.2M205.3,725.8h4M207.3,723.2v5.2M240.4,725.8h4M242.4,723.2v5.2M247.4,725.8h4M249.4,723.2v5.2M264.4,831.4h4M266.4,828.8v5.2" fill="none" stroke="#333" stroke-width="0.9"/>
<path d="M96.9,725.8 L108.0,725.8 L108.0,739.1 L118.7,739.1 L118.7,751.8 L123.7,751.8 L123.7,765.2 L134.4,765.2 L135.4,765.2 L135.4,791.3 L183.2,791.3 L183.2,840.1 L409.5,840.1" fill="none" stroke="#e85a5c" stroke-width="0.9" stroke-linejoin="miter"/>
<path d="M148.4,791.3h4M150.4,788.7v5.2M155.8,791.3h4M157.8,788.7v5.2M157.8,791.3h4M159.8,788.7v5.2M159.1,791.3h4M161.1,788.7v5.2M164.5,791.3h4M166.5,788.7v5.2M177.9,791.3h4M179.9,788.7v5.2M203.3,840.1h4M205.3,837.5v5.2M406.9,840.1h4M408.9,837.5v5.2" fill="none" stroke="#e03034" stroke-width="0.9"/>
<rect x="96.7" y="716.7" width="325.2" height="229.0" fill="none" stroke="#111" stroke-width="3.1"/>
<line x1="85.5" y1="725.8" x2="96.7" y2="725.8" stroke="#111" stroke-width="2.1" stroke-linecap="butt"/>
<text transform="translate(82.7,726.3) rotate(-90)" font-size="15.2" fill="#111" text-anchor="middle" textLength="20.8" lengthAdjust="spacingAndGlyphs">1.0</text>
<line x1="85.5" y1="768.6" x2="96.7" y2="768.6" stroke="#111" stroke-width="2.1" stroke-linecap="butt"/>
<text transform="translate(82.7,769.1) rotate(-90)" font-size="15.2" fill="#111" text-anchor="middle" textLength="20.8" lengthAdjust="spacingAndGlyphs">0.8</text>
<line x1="85.5" y1="809.7" x2="96.7" y2="809.7" stroke="#111" stroke-width="2.1" stroke-linecap="butt"/>
<text transform="translate(82.7,810.2) rotate(-90)" font-size="15.2" fill="#111" text-anchor="middle" textLength="20.8" lengthAdjust="spacingAndGlyphs">0.6</text>
<line x1="85.5" y1="852.1" x2="96.7" y2="852.1" stroke="#111" stroke-width="2.1" stroke-linecap="butt"/>
<text transform="translate(82.7,852.6) rotate(-90)" font-size="15.2" fill="#111" text-anchor="middle" textLength="20.8" lengthAdjust="spacingAndGlyphs">0.4</text>
<line x1="85.5" y1="894.9" x2="96.7" y2="894.9" stroke="#111" stroke-width="2.1" stroke-linecap="butt"/>
<text transform="translate(82.7,895.4) rotate(-90)" font-size="15.2" fill="#111" text-anchor="middle" textLength="20.8" lengthAdjust="spacingAndGlyphs">0.2</text>
<text transform="translate(51.1,828.5) rotate(-90)" font-size="16.5" fill="#111" text-anchor="middle" textLength="225.5" lengthAdjust="spacingAndGlyphs">Progression-free survival rate</text>
<line x1="168.8" y1="945.7" x2="168.8" y2="954.3" stroke="#111" stroke-width="2.8" stroke-linecap="butt"/>
<text x="167.1" y="966.8" font-size="15.2" fill="#111" text-anchor="middle" textLength="16.2" lengthAdjust="spacingAndGlyphs">50</text>
<line x1="242.7" y1="945.7" x2="242.7" y2="954.3" stroke="#111" stroke-width="2.8" stroke-linecap="butt"/>
<text x="241.3" y="966.8" font-size="15.2" fill="#111" text-anchor="middle" textLength="23.6" lengthAdjust="spacingAndGlyphs">100</text>
<line x1="315.3" y1="945.7" x2="315.3" y2="954.3" stroke="#111" stroke-width="2.8" stroke-linecap="butt"/>
<text x="311.9" y="966.8" font-size="15.2" fill="#111" text-anchor="middle" textLength="23.6" lengthAdjust="spacingAndGlyphs">150</text>
<line x1="388.5" y1="945.7" x2="388.5" y2="954.3" stroke="#111" stroke-width="2.8" stroke-linecap="butt"/>
<text x="385.6" y="966.8" font-size="15.2" fill="#111" text-anchor="middle" textLength="23.6" lengthAdjust="spacingAndGlyphs">200</text>
<text x="170.4" y="990.4" font-size="15" fill="#111" text-anchor="start" textLength="165.2" lengthAdjust="spacingAndGlyphs">Follow up time (months)</text>
<text x="274.5" y="736.1" font-size="15.2" fill="#111" text-anchor="start" textLength="132.0" lengthAdjust="spacingAndGlyphs">HR=7.14 (0.84-60.5)</text>
<text x="274.5" y="756.3" font-size="15.2" fill="#111" text-anchor="start" textLength="53.2" lengthAdjust="spacingAndGlyphs">p=0.037</text>
<text x="274.1" y="782.7" font-size="15.2" fill="#111" text-anchor="start" textLength="48.8" lengthAdjust="spacingAndGlyphs">Stage II</text>
<rect x="104.6" y="910.2" width="22.4" height="4.8" fill="#111"/>
<rect x="104.1" y="932.2" width="22.4" height="4.6" fill="#e8171c"/>
<text x="129.4" y="915.7" font-size="14.8" fill="#111" text-anchor="start" textLength="70.2" lengthAdjust="spacingAndGlyphs">Low(n=16)</text>
<text x="129.4" y="935.0" font-size="14.8" fill="#e0262a" text-anchor="start" textLength="72.9" lengthAdjust="spacingAndGlyphs">High(n=16)</text>
<path d="M545.2,726.1 L548.0,726.1 L548.0,728.0 L550.8,728.0 L550.8,729.9 L553.6,729.9 L553.6,731.8 L555.8,731.8 L555.8,734.6 L558.1,734.6 L558.1,737.4 L560.3,737.4 L560.3,740.1 L562.5,740.1 L562.5,744.6 L564.7,744.6 L564.7,749.1 L567.0,749.1 L567.0,753.5 L569.2,753.5 L569.2,757.4 L571.4,757.4 L571.4,761.3 L573.7,761.3 L573.7,765.2 L575.9,765.2 L575.9,768.0 L578.1,768.0 L578.1,770.8 L580.3,770.8 L580.3,773.6 L583.1,773.6 L583.1,776.9 L585.9,776.9 L585.9,780.3 L588.7,780.3 L588.7,783.6 L590.4,783.6 L590.4,785.8 L592.0,785.8 L592.0,788.1 L593.7,788.1 L593.7,790.3 L594.8,790.3 L594.8,795.9 L595.9,795.9 L595.9,801.4 L597.1,801.4 L597.1,807.0 L599.3,807.0 L599.3,809.8 L601.5,809.8 L601.5,812.6 L603.8,812.6 L603.8,815.4 L606.5,815.4 L606.5,817.0 L609.3,817.0 L609.3,818.7 L612.1,818.7 L612.1,820.4 L613.8,820.4 L613.8,824.3 L615.5,824.3 L615.5,828.2 L617.1,828.2 L617.1,832.1 L619.4,832.1 L619.4,836.5 L621.6,836.5 L621.6,841.0 L623.8,841.0 L623.8,845.5 L626.0,845.5 L626.0,847.7 L628.3,847.7 L628.3,849.9 L630.5,849.9 L630.5,852.1 L633.8,852.1 L633.8,854.4 L637.2,854.4 L637.2,856.6 L640.5,856.6 L640.5,858.8 L643.9,858.8 L643.9,861.1 L647.2,861.1 L647.2,863.3 L650.6,863.3 L650.6,865.5 L652.8,865.5 L652.8,867.7 L655.0,867.7 L655.0,870.0 L657.2,870.0 L657.2,872.2 L662.8,872.2 L662.8,872.8 L668.4,872.8 L668.4,873.3 L674.0,873.3 L674.0,873.9 L675.6,873.9 L675.6,876.7 L677.3,876.7 L677.3,879.4 L679.0,879.4 L679.0,882.2 L681.8,882.2 L681.8,883.3 L684.5,883.3 L684.5,884.5 L687.3,884.5 L687.3,885.6 L691.2,885.6 L691.2,886.7 L695.1,886.7 L695.1,887.8 L699.0,887.8 L699.0,888.9 L701.3,888.9 L701.3,891.1 L703.5,891.1 L703.5,893.4 L705.7,893.4 L705.7,895.6 L711.8,895.6 L711.8,895.9 L718.0,895.9 L718.0,896.3 L724.1,896.3 L724.1,896.6 L725.2,896.6 L725.2,897.9 L726.3,897.9 L726.3,899.3 L727.4,899.3 L727.4,900.6 L735.2,900.6 L735.2,900.8 L743.0,900.8 L743.0,901.1 L750.8,901.1 L750.8,901.3 L751.8,901.3 L751.8,910.0 L785.9,910.0 L788.3,910.0 L788.3,925.0 L825.1,925.0" fill="none" stroke="#4a4a4a" stroke-width="0.9" stroke-linejoin="miter"/>
<path d="M545.6,727.7h4M547.6,725.1v5.2M548.3,729.5h4M550.3,726.9v5.2M553.3,733.9h4M555.3,731.3v5.2M556.6,738.1h4M558.6,735.5v5.2M560.0,743.5h4M562.0,740.9v5.2M568.3,759.4h4M570.3,756.8v5.2M571.0,764.0h4M573.0,761.4v5.2M573.3,767.3h4M575.3,764.7v5.2M575.7,770.2h4M577.7,767.6v5.2M577.7,772.7h4M579.7,770.1v5.2M580.0,775.6h4M582.0,773.0v5.2M582.4,778.4h4M584.4,775.8v5.2M585.0,781.6h4M587.0,779.0v5.2M587.7,784.9h4M589.7,782.3v5.2M589.7,787.6h4M591.7,785.0v5.2M591.1,789.4h4M593.1,786.8v5.2M593.1,797.0h4M595.1,794.4v5.2M594.4,803.7h4M596.4,801.1v5.2M602.4,815.8h4M604.4,813.2v5.2M605.1,817.4h4M607.1,814.8v5.2M607.8,819.0h4M609.8,816.4v5.2M610.1,820.4h4M612.1,817.8v5.2M611.8,824.3h4M613.8,821.7v5.2M614.5,830.5h4M616.5,827.9v5.2M616.8,835.4h4M618.8,832.8v5.2M619.1,840.1h4M621.1,837.5v5.2M623.5,847.1h4M625.5,844.5v5.2M627.8,851.5h4M629.8,848.9v5.2M631.8,854.4h4M633.8,851.8v5.2M640.2,859.9h4M642.2,857.3v5.2M644.5,862.8h4M646.5,860.2v5.2M646.9,864.4h4M648.9,861.8v5.2M649.2,866.2h4M651.2,863.6v5.2M652.6,869.5h4M654.6,866.9v5.2M655.2,872.2h4M657.2,869.6v5.2M663.6,873.0h4M665.6,870.4v5.2M666.9,873.4h4M668.9,870.8v5.2M670.3,873.7h4M672.3,871.1v5.2M677.0,882.2h4M679.0,879.6v5.2M687.0,886.0h4M689.0,883.4v5.2M692.0,887.5h4M694.0,884.9v5.2M694.7,888.2h4M696.7,885.6v5.2M697.0,888.9h4M699.0,886.3v5.2M712.1,896.1h4M714.1,893.5v5.2M718.1,896.4h4M720.1,893.8v5.2M720.4,896.5h4M722.4,893.9v5.2M730.5,900.8h4M732.5,898.2v5.2M736.1,900.9h4M738.1,898.3v5.2M744.8,901.2h4M746.8,898.6v5.2M746.2,901.2h4M748.2,898.6v5.2M782.9,910.0h4M784.9,907.4v5.2M821.7,925.0h4M823.7,922.4v5.2" fill="none" stroke="#333" stroke-width="0.9"/>
<path d="M545.2,726.1 L548.0,726.1 L548.0,728.0 L550.8,728.0 L550.8,729.9 L553.6,729.9 L553.6,731.8 L555.8,731.8 L555.8,734.6 L558.1,734.6 L558.1,737.4 L560.3,737.4 L560.3,740.1 L562.5,740.1 L562.5,745.2 L564.7,745.2 L564.7,750.2 L567.0,750.2 L567.0,755.2 L568.6,755.2 L568.6,758.5 L570.3,758.5 L570.3,761.9 L572.0,761.9 L572.0,765.2 L573.7,765.2 L573.7,769.7 L575.3,769.7 L575.3,774.1 L577.0,774.1 L577.0,778.6 L578.1,778.6 L578.1,783.6 L579.2,783.6 L579.2,788.6 L580.3,788.6 L580.3,793.6 L582.0,793.6 L582.0,797.5 L583.7,797.5 L583.7,801.4 L585.4,801.4 L585.4,805.3 L587.0,805.3 L587.0,808.1 L588.7,808.1 L588.7,810.9 L590.4,810.9 L590.4,813.7 L592.6,813.7 L592.6,816.5 L594.8,816.5 L594.8,819.3 L597.1,819.3 L597.1,822.0 L598.7,822.0 L598.7,825.4 L600.4,825.4 L600.4,828.7 L602.1,828.7 L602.1,832.1 L603.8,832.1 L603.8,836.0 L605.4,836.0 L605.4,839.9 L607.1,839.9 L607.1,843.8 L608.8,843.8 L608.8,847.1 L610.4,847.1 L610.4,850.5 L612.1,850.5 L612.1,853.8 L614.3,853.8 L614.3,855.5 L616.6,855.5 L616.6,857.2 L618.8,857.2 L618.8,858.8 L621.6,858.8 L621.6,860.5 L624.4,860.5 L624.4,862.2 L627.2,862.2 L627.2,863.8 L629.4,863.8 L629.4,867.7 L631.6,867.7 L631.6,871.6 L633.8,871.6 L633.8,875.5 L636.6,875.5 L636.6,877.8 L639.4,877.8 L639.4,880.0 L642.2,880.0 L642.2,882.2 L643.9,882.2 L643.9,884.5 L645.5,884.5 L645.5,886.7 L647.2,886.7 L647.2,888.9 L649.4,888.9 L649.4,890.6 L651.7,890.6 L651.7,892.3 L653.9,892.3 L653.9,893.9 L656.1,893.9 L656.1,896.2 L658.4,896.2 L658.4,898.4 L660.6,898.4 L660.6,900.6 L663.3,900.6 L663.3,906.6 L856.1,906.6" fill="none" stroke="#e85a5c" stroke-width="0.9" stroke-linejoin="miter"/>
<path d="M545.6,727.7h4M547.6,725.1v5.2M548.9,730.0h4M550.9,727.4v5.2M554.9,736.0h4M556.9,733.4v5.2M558.3,740.1h4M560.3,737.5v5.2M561.6,747.7h4M563.6,745.1v5.2M565.6,756.5h4M567.6,753.9v5.2M569.0,763.2h4M571.0,760.6v5.2M571.7,769.7h4M573.7,767.1v5.2M575.7,781.6h4M577.7,779.0v5.2M577.7,790.6h4M579.7,788.0v5.2M579.7,796.8h4M581.7,794.2v5.2M581.7,801.4h4M583.7,798.8v5.2M584.4,807.0h4M586.4,804.4v5.2M586.4,810.3h4M588.4,807.7v5.2M588.4,813.7h4M590.4,811.1v5.2M590.4,816.2h4M592.4,813.6v5.2M592.4,818.7h4M594.4,816.1v5.2M594.4,821.2h4M596.4,818.6v5.2M596.7,825.4h4M598.7,822.8v5.2M599.1,830.1h4M601.1,827.5v5.2M601.8,836.0h4M603.8,833.4v5.2M604.4,842.2h4M606.4,839.6v5.2M607.1,847.8h4M609.1,845.2v5.2M612.4,855.6h4M614.4,853.0v5.2M615.1,857.6h4M617.1,855.0v5.2M617.8,859.4h4M619.8,856.8v5.2M620.1,860.8h4M622.1,858.2v5.2M622.5,862.2h4M624.5,859.6v5.2M625.2,863.8h4M627.2,861.2v5.2M635.2,878.2h4M637.2,875.6v5.2M641.9,884.5h4M643.9,881.9v5.2M649.2,891.9h4M651.2,889.3v5.2M653.6,895.6h4M655.6,893.0v5.2M657.9,899.9h4M659.9,897.3v5.2M667.9,906.6h4M669.9,904.0v5.2M674.6,906.6h4M676.6,904.0v5.2M678.0,906.6h4M680.0,904.0v5.2M685.3,906.6h4M687.3,904.0v5.2M703.7,906.6h4M705.7,904.0v5.2M707.1,906.6h4M709.1,904.0v5.2M712.1,906.6h4M714.1,904.0v5.2M718.8,906.6h4M720.8,904.0v5.2M737.1,906.6h4M739.1,904.0v5.2M740.5,906.6h4M742.5,904.0v5.2M853.1,906.6h4M855.1,904.0v5.2" fill="none" stroke="#e03034" stroke-width="0.9"/>
<rect x="544.7" y="719.4" width="323.2" height="227.3" fill="none" stroke="#111" stroke-width="3.1"/>
<line x1="533.5" y1="726.1" x2="544.7" y2="726.1" stroke="#111" stroke-width="2.1" stroke-linecap="butt"/>
<text transform="translate(530.1,726.6) rotate(-90)" font-size="15.2" fill="#111" text-anchor="middle" textLength="20.8" lengthAdjust="spacingAndGlyphs">1.0</text>
<line x1="533.5" y1="769.6" x2="544.7" y2="769.6" stroke="#111" stroke-width="2.1" stroke-linecap="butt"/>
<text transform="translate(530.1,770.1) rotate(-90)" font-size="15.2" fill="#111" text-anchor="middle" textLength="20.8" lengthAdjust="spacingAndGlyphs">0.8</text>
<line x1="533.5" y1="811.0" x2="544.7" y2="811.0" stroke="#111" stroke-width="2.1" stroke-linecap="butt"/>
<text transform="translate(530.1,811.5) rotate(-90)" font-size="15.2" fill="#111" text-anchor="middle" textLength="20.8" lengthAdjust="spacingAndGlyphs">0.6</text>
<line x1="533.5" y1="854.8" x2="544.7" y2="854.8" stroke="#111" stroke-width="2.1" stroke-linecap="butt"/>
<text transform="translate(530.1,855.3) rotate(-90)" font-size="15.2" fill="#111" text-anchor="middle" textLength="20.8" lengthAdjust="spacingAndGlyphs">0.4</text>
<line x1="533.5" y1="897.3" x2="544.7" y2="897.3" stroke="#111" stroke-width="2.1" stroke-linecap="butt"/>
<text transform="translate(530.1,897.8) rotate(-90)" font-size="15.2" fill="#111" text-anchor="middle" textLength="20.8" lengthAdjust="spacingAndGlyphs">0.2</text>
<text transform="translate(502.8,829.0) rotate(-90)" font-size="16.5" fill="#111" text-anchor="middle" textLength="225.5" lengthAdjust="spacingAndGlyphs">Progression-free survival rate</text>
<line x1="617.8" y1="946.7" x2="617.8" y2="955.3" stroke="#111" stroke-width="2.8" stroke-linecap="butt"/>
<text x="616.4" y="970.0" font-size="15.2" fill="#111" text-anchor="middle" textLength="16.2" lengthAdjust="spacingAndGlyphs">50</text>
<line x1="689.8" y1="946.7" x2="689.8" y2="955.3" stroke="#111" stroke-width="2.8" stroke-linecap="butt"/>
<text x="690.1" y="970.0" font-size="15.2" fill="#111" text-anchor="middle" textLength="23.6" lengthAdjust="spacingAndGlyphs">100</text>
<line x1="761.8" y1="946.7" x2="761.8" y2="955.3" stroke="#111" stroke-width="2.8" stroke-linecap="butt"/>
<text x="760.6" y="970.0" font-size="15.2" fill="#111" text-anchor="middle" textLength="23.6" lengthAdjust="spacingAndGlyphs">150</text>
<line x1="834.1" y1="946.7" x2="834.1" y2="955.3" stroke="#111" stroke-width="2.8" stroke-linecap="butt"/>
<text x="835.1" y="970.0" font-size="15.2" fill="#111" text-anchor="middle" textLength="23.6" lengthAdjust="spacingAndGlyphs">200</text>
<text x="620.2" y="990.4" font-size="15" fill="#111" text-anchor="start" textLength="165.2" lengthAdjust="spacingAndGlyphs">Follow up time (months)</text>
<text x="724.1" y="736.8" font-size="15.2" fill="#111" text-anchor="start" textLength="132.4" lengthAdjust="spacingAndGlyphs">HR=1.31 (1.03-1.68)</text>
<text x="724.1" y="757.0" font-size="15.2" fill="#111" text-anchor="start" textLength="53.5" lengthAdjust="spacingAndGlyphs">p=0.028</text>
<text x="724.1" y="782.7" font-size="15.2" fill="#111" text-anchor="start" textLength="69.5" lengthAdjust="spacingAndGlyphs">Stage II+III</text>
<rect x="558.0" y="912.3" width="22.4" height="4.8" fill="#111"/>
<rect x="557.5" y="934.2" width="22.4" height="4.6" fill="#e8171c"/>
<text x="582.7" y="917.3" font-size="14.8" fill="#111" text-anchor="start" textLength="78.9" lengthAdjust="spacingAndGlyphs">Low(n=230)</text>
<text x="582.7" y="936.7" font-size="14.8" fill="#e0262a" text-anchor="start" textLength="81.2" lengthAdjust="spacingAndGlyphs">High(n=228)</text>
<path d="M1014.6,730.1 L1017.4,730.1 L1017.4,732.3 L1020.2,732.3 L1020.2,734.6 L1023.0,734.6 L1023.0,736.8 L1025.8,736.8 L1025.8,739.6 L1028.5,739.6 L1028.5,742.4 L1031.3,742.4 L1031.3,745.2 L1033.6,745.2 L1033.6,750.2 L1035.8,750.2 L1035.8,755.2 L1038.0,755.2 L1038.0,760.2 L1040.2,760.2 L1040.2,764.1 L1042.5,764.1 L1042.5,768.0 L1044.7,768.0 L1044.7,771.9 L1047.5,771.9 L1047.5,774.7 L1050.3,774.7 L1050.3,777.5 L1053.1,777.5 L1053.1,780.3 L1055.9,780.3 L1055.9,783.0 L1058.6,783.0 L1058.6,785.8 L1061.4,785.8 L1061.4,788.6 L1063.7,788.6 L1063.7,792.0 L1065.9,792.0 L1065.9,795.3 L1068.1,795.3 L1068.1,798.6 L1069.2,798.6 L1069.2,803.7 L1070.3,803.7 L1070.3,808.7 L1071.5,808.7 L1071.5,813.7 L1073.7,813.7 L1073.7,816.5 L1075.9,816.5 L1075.9,819.3 L1078.1,819.3 L1078.1,822.0 L1081.5,822.0 L1081.5,823.7 L1084.8,823.7 L1084.8,825.4 L1088.2,825.4 L1088.2,827.1 L1089.8,827.1 L1089.8,831.5 L1091.5,831.5 L1091.5,836.0 L1093.2,836.0 L1093.2,840.4 L1096.0,840.4 L1096.0,845.5 L1098.8,845.5 L1098.8,850.5 L1101.5,850.5 L1101.5,855.5 L1104.9,855.5 L1104.9,857.7 L1108.2,857.7 L1108.2,859.9 L1111.6,859.9 L1111.6,862.2 L1114.4,862.2 L1114.4,864.4 L1117.1,864.4 L1117.1,866.6 L1119.9,866.6 L1119.9,868.9 L1123.3,868.9 L1123.3,870.5 L1126.6,870.5 L1126.6,872.2 L1130.0,872.2 L1130.0,873.9 L1131.6,873.9 L1131.6,876.7 L1133.3,876.7 L1133.3,879.4 L1135.0,879.4 L1135.0,882.2 L1141.7,882.2 L1141.7,882.8 L1148.3,882.8 L1148.3,883.3 L1155.0,883.3 L1155.0,883.9 L1157.3,883.9 L1157.3,887.0 L1159.5,887.0 L1159.5,890.1 L1161.7,890.1 L1161.7,893.3 L1167.3,893.3 L1167.3,894.0 L1172.9,894.0 L1172.9,894.8 L1178.4,894.8 L1178.4,895.6 L1182.3,895.6 L1182.3,897.8 L1186.2,897.8 L1186.2,900.1 L1190.1,900.1 L1190.1,902.3 L1197.4,902.3 L1197.4,902.6 L1204.6,902.6 L1204.6,903.0 L1211.9,903.0 L1211.9,903.3 L1213.0,903.3 L1213.0,904.6 L1214.1,904.6 L1214.1,906.0 L1215.2,906.0 L1215.2,907.3 L1223.0,907.3 L1223.0,907.5 L1230.8,907.5 L1230.8,907.7 L1238.6,907.7 L1238.6,908.0 L1240.9,908.0 L1240.9,916.3 L1278.7,916.3 L1280.4,916.3 L1280.4,929.4 L1320.5,929.4" fill="none" stroke="#4a4a4a" stroke-width="0.9" stroke-linejoin="miter"/>
<path d="M1015.0,732.0h4M1017.0,729.4v5.2M1018.3,734.7h4M1020.3,732.1v5.2M1022.6,738.5h4M1024.6,735.9v5.2M1027.0,742.8h4M1029.0,740.2v5.2M1031.0,748.9h4M1033.0,746.3v5.2M1038.4,764.3h4M1040.4,761.7v5.2M1041.0,769.0h4M1043.0,766.4v5.2M1044.4,773.6h4M1046.4,771.0v5.2M1047.1,776.3h4M1049.1,773.7v5.2M1049.4,778.6h4M1051.4,776.0v5.2M1051.7,780.9h4M1053.7,778.3v5.2M1054.4,783.6h4M1056.4,781.0v5.2M1057.1,786.3h4M1059.1,783.7v5.2M1059.8,789.1h4M1061.8,786.5v5.2M1061.8,792.1h4M1063.8,789.5v5.2M1063.8,795.1h4M1065.8,792.5v5.2M1066.1,798.6h4M1068.1,796.0v5.2M1068.4,809.2h4M1070.4,806.6v5.2M1077.8,822.9h4M1079.8,820.3v5.2M1080.5,824.2h4M1082.5,821.6v5.2M1082.8,825.4h4M1084.8,822.8v5.2M1085.2,826.6h4M1087.2,824.0v5.2M1087.8,831.5h4M1089.8,828.9v5.2M1090.5,838.7h4M1092.5,836.1v5.2M1093.2,844.0h4M1095.2,841.4v5.2M1096.2,849.5h4M1098.2,846.9v5.2M1101.2,856.6h4M1103.2,854.0v5.2M1107.9,861.1h4M1109.9,858.5v5.2M1117.9,868.9h4M1119.9,866.3v5.2M1126.3,873.0h4M1128.3,870.4v5.2M1131.3,879.4h4M1133.3,876.8v5.2M1134.6,882.4h4M1136.6,879.8v5.2M1137.3,882.6h4M1139.3,880.0v5.2M1146.3,883.3h4M1148.3,880.7v5.2M1149.7,883.6h4M1151.7,881.0v5.2M1152.0,883.8h4M1154.0,881.2v5.2M1159.7,893.3h4M1161.7,890.7v5.2M1174.8,895.4h4M1176.8,892.8v5.2M1178.1,896.6h4M1180.1,894.0v5.2M1197.5,902.7h4M1199.5,900.1v5.2M1204.2,903.0h4M1206.2,900.4v5.2M1206.5,903.1h4M1208.5,900.5v5.2M1208.2,903.2h4M1210.2,900.6v5.2M1217.5,907.4h4M1219.5,904.8v5.2M1224.9,907.6h4M1226.9,905.0v5.2M1234.9,907.9h4M1236.9,905.3v5.2M1275.7,916.3h4M1277.7,913.7v5.2M1317.5,929.4h4M1319.5,926.8v5.2" fill="none" stroke="#333" stroke-width="0.9"/>
<path d="M1014.6,730.1 L1019.1,730.1 L1019.1,732.3 L1023.5,732.3 L1023.5,734.6 L1028.0,734.6 L1028.0,736.8 L1030.2,736.8 L1030.2,740.7 L1032.4,740.7 L1032.4,744.6 L1034.7,744.6 L1034.7,748.5 L1036.3,748.5 L1036.3,753.0 L1038.0,753.0 L1038.0,757.4 L1039.7,757.4 L1039.7,761.9 L1041.4,761.9 L1041.4,765.8 L1043.0,765.8 L1043.0,769.7 L1044.7,769.7 L1044.7,773.6 L1046.4,773.6 L1046.4,778.0 L1048.0,778.0 L1048.0,782.5 L1049.7,782.5 L1049.7,786.9 L1051.4,786.9 L1051.4,792.5 L1053.1,792.5 L1053.1,798.1 L1054.7,798.1 L1054.7,803.7 L1056.4,803.7 L1056.4,807.6 L1058.1,807.6 L1058.1,811.5 L1059.8,811.5 L1059.8,815.4 L1062.0,815.4 L1062.0,818.1 L1064.2,818.1 L1064.2,820.9 L1066.4,820.9 L1066.4,823.7 L1068.7,823.7 L1068.7,827.1 L1070.9,827.1 L1070.9,830.4 L1073.1,830.4 L1073.1,833.8 L1074.8,833.8 L1074.8,838.2 L1076.5,838.2 L1076.5,842.7 L1078.1,842.7 L1078.1,847.1 L1079.8,847.1 L1079.8,849.9 L1081.5,849.9 L1081.5,852.7 L1083.2,852.7 L1083.2,855.5 L1084.3,855.5 L1084.3,858.8 L1085.4,858.8 L1085.4,862.2 L1086.5,862.2 L1086.5,865.5 L1089.8,865.5 L1089.8,867.7 L1093.2,867.7 L1093.2,870.0 L1096.5,870.0 L1096.5,872.2 L1099.3,872.2 L1099.3,873.3 L1102.1,873.3 L1102.1,874.4 L1104.9,874.4 L1104.9,875.5 L1107.1,875.5 L1107.1,879.4 L1109.3,879.4 L1109.3,883.3 L1111.6,883.3 L1111.6,887.2 L1114.4,887.2 L1114.4,888.9 L1117.1,888.9 L1117.1,890.6 L1119.9,890.6 L1119.9,892.3 L1122.2,892.3 L1122.2,895.6 L1124.4,895.6 L1124.4,898.9 L1126.6,898.9 L1126.6,902.3 L1129.4,902.3 L1129.4,904.5 L1132.2,904.5 L1132.2,906.7 L1135.0,906.7 L1135.0,909.0 L1137.8,909.0 L1137.8,911.8 L1140.5,911.8 L1140.5,914.5 L1143.3,914.5 L1143.3,917.3 L1231.9,917.3" fill="none" stroke="#e85a5c" stroke-width="0.9" stroke-linejoin="miter"/>
<path d="M1015.0,731.3h4M1017.0,728.7v5.2M1018.3,733.0h4M1020.3,730.4v5.2M1021.6,734.6h4M1023.6,732.0v5.2M1025.0,736.3h4M1027.0,733.7v5.2M1029.3,742.7h4M1031.3,740.1v5.2M1034.3,753.0h4M1036.3,750.4v5.2M1038.4,763.4h4M1040.4,760.8v5.2M1041.0,769.7h4M1043.0,767.1v5.2M1043.7,776.3h4M1045.7,773.7v5.2M1046.4,783.4h4M1048.4,780.8v5.2M1049.1,791.4h4M1051.1,788.8v5.2M1051.7,800.3h4M1053.7,797.7v5.2M1054.4,807.6h4M1056.4,805.0v5.2M1057.1,813.8h4M1059.1,811.2v5.2M1059.8,817.9h4M1061.8,815.3v5.2M1062.4,821.2h4M1064.4,818.6v5.2M1065.1,824.7h4M1067.1,822.1v5.2M1067.8,828.7h4M1069.8,826.1v5.2M1070.5,832.7h4M1072.5,830.1v5.2M1073.1,839.1h4M1075.1,836.5v5.2M1075.8,846.2h4M1077.8,843.6v5.2M1078.5,851.0h4M1080.5,848.4v5.2M1081.2,855.5h4M1083.2,852.9v5.2M1087.8,867.7h4M1089.8,865.1v5.2M1091.2,870.0h4M1093.2,867.4v5.2M1094.5,872.2h4M1096.5,869.6v5.2M1097.9,873.5h4M1099.9,870.9v5.2M1101.2,874.9h4M1103.2,872.3v5.2M1114.6,890.2h4M1116.6,887.6v5.2M1134.6,910.6h4M1136.6,908.0v5.2M1148.0,917.3h4M1150.0,914.7v5.2M1156.4,917.3h4M1158.4,914.7v5.2M1159.7,917.3h4M1161.7,914.7v5.2M1167.4,917.3h4M1169.4,914.7v5.2M1188.1,917.3h4M1190.1,914.7v5.2M1191.5,917.3h4M1193.5,914.7v5.2M1204.2,917.3h4M1206.2,914.7v5.2M1224.9,917.3h4M1226.9,914.7v5.2M1228.2,917.3h4M1230.2,914.7v5.2" fill="none" stroke="#e03034" stroke-width="0.9"/>
<rect x="1014.5" y="721.6" width="316.4" height="229.2" fill="none" stroke="#111" stroke-width="3.1"/>
<line x1="1003.3" y1="730.1" x2="1014.5" y2="730.1" stroke="#111" stroke-width="2.1" stroke-linecap="butt"/>
<text transform="translate(1000.4,730.6) rotate(-90)" font-size="15.2" fill="#111" text-anchor="middle" textLength="20.8" lengthAdjust="spacingAndGlyphs">1.0</text>
<line x1="1003.3" y1="772.2" x2="1014.5" y2="772.2" stroke="#111" stroke-width="2.1" stroke-linecap="butt"/>
<text transform="translate(1000.4,772.7) rotate(-90)" font-size="15.2" fill="#111" text-anchor="middle" textLength="20.8" lengthAdjust="spacingAndGlyphs">0.8</text>
<line x1="1003.3" y1="814.7" x2="1014.5" y2="814.7" stroke="#111" stroke-width="2.1" stroke-linecap="butt"/>
<text transform="translate(1000.4,815.2) rotate(-90)" font-size="15.2" fill="#111" text-anchor="middle" textLength="20.8" lengthAdjust="spacingAndGlyphs">0.6</text>
<line x1="1003.3" y1="858.2" x2="1014.5" y2="858.2" stroke="#111" stroke-width="2.1" stroke-linecap="butt"/>
<text transform="translate(1000.4,858.7) rotate(-90)" font-size="15.2" fill="#111" text-anchor="middle" textLength="20.8" lengthAdjust="spacingAndGlyphs">0.4</text>
<line x1="1003.3" y1="899.9" x2="1014.5" y2="899.9" stroke="#111" stroke-width="2.1" stroke-linecap="butt"/>
<text transform="translate(1000.4,900.4) rotate(-90)" font-size="15.2" fill="#111" text-anchor="middle" textLength="20.8" lengthAdjust="spacingAndGlyphs">0.2</text>
<text transform="translate(963.9,829.0) rotate(-90)" font-size="16.5" fill="#111" text-anchor="middle" textLength="225.5" lengthAdjust="spacingAndGlyphs">Progression-free survival rate</text>
<line x1="1093.3" y1="950.8" x2="1093.3" y2="959.4" stroke="#111" stroke-width="2.8" stroke-linecap="butt"/>
<text x="1096.5" y="971.8" font-size="15.2" fill="#111" text-anchor="middle" textLength="16.2" lengthAdjust="spacingAndGlyphs">50</text>
<line x1="1172.0" y1="950.8" x2="1172.0" y2="959.4" stroke="#111" stroke-width="2.8" stroke-linecap="butt"/>
<text x="1174.0" y="971.8" font-size="15.2" fill="#111" text-anchor="middle" textLength="23.6" lengthAdjust="spacingAndGlyphs">100</text>
<line x1="1251.0" y1="950.8" x2="1251.0" y2="959.4" stroke="#111" stroke-width="2.8" stroke-linecap="butt"/>
<text x="1251.5" y="971.8" font-size="15.2" fill="#111" text-anchor="middle" textLength="23.6" lengthAdjust="spacingAndGlyphs">150</text>
<text x="1098.1" y="991.8" font-size="15" fill="#111" text-anchor="start" textLength="165.2" lengthAdjust="spacingAndGlyphs">Follow up time (months)</text>
<text x="1190.5" y="736.1" font-size="15.2" fill="#111" text-anchor="start" textLength="132.4" lengthAdjust="spacingAndGlyphs">HR=1.37 (1.07-1.75)</text>
<text x="1190.5" y="756.3" font-size="15.2" fill="#111" text-anchor="start" textLength="53.2" lengthAdjust="spacingAndGlyphs">p=0.014</text>
<text x="1190.1" y="783.7" font-size="15.2" fill="#111" text-anchor="start" textLength="53.5" lengthAdjust="spacingAndGlyphs">Stage III</text>
<rect x="1020.6" y="919.7" width="22.4" height="4.8" fill="#111"/>
<rect x="1020.1" y="941.5" width="22.4" height="4.6" fill="#e8171c"/>
<text x="1045.4" y="924.0" font-size="14.8" fill="#111" text-anchor="start" textLength="78.6" lengthAdjust="spacingAndGlyphs">Low(n=213)</text>
<text x="1045.4" y="943.4" font-size="14.8" fill="#e0262a" text-anchor="start" textLength="81.2" lengthAdjust="spacingAndGlyphs">High(n=213)</text>
<path d="M94.6,1060.1 L97.6,1060.1 L97.6,1062.4 L100.6,1062.4 L100.6,1064.6 L103.6,1064.6 L103.6,1066.8 L106.4,1066.8 L106.4,1069.1 L109.2,1069.1 L109.2,1071.3 L112.0,1071.3 L112.0,1073.5 L113.7,1073.5 L113.7,1078.0 L115.3,1078.0 L115.3,1082.4 L117.0,1082.4 L117.0,1086.9 L119.2,1086.9 L119.2,1091.3 L121.5,1091.3 L121.5,1095.8 L123.7,1095.8 L123.7,1100.3 L126.5,1100.3 L126.5,1104.7 L129.3,1104.7 L129.3,1109.2 L132.0,1109.2 L132.0,1113.6 L134.8,1113.6 L134.8,1117.5 L137.6,1117.5 L137.6,1121.4 L140.4,1121.4 L140.4,1125.3 L143.2,1125.3 L143.2,1127.6 L146.0,1127.6 L146.0,1129.8 L148.8,1129.8 L148.8,1132.0 L150.4,1132.0 L150.4,1137.0 L152.1,1137.0 L152.1,1142.0 L153.8,1142.0 L153.8,1147.1 L156.0,1147.1 L156.0,1152.1 L158.2,1152.1 L158.2,1157.1 L160.5,1157.1 L160.5,1162.1 L163.8,1162.1 L163.8,1163.8 L167.2,1163.8 L167.2,1165.5 L170.5,1165.5 L170.5,1167.1 L172.7,1167.1 L172.7,1171.6 L175.0,1171.6 L175.0,1176.0 L177.2,1176.0 L177.2,1180.5 L180.0,1180.5 L180.0,1185.0 L182.8,1185.0 L182.8,1189.4 L185.5,1189.4 L185.5,1193.9 L189.4,1193.9 L189.4,1196.7 L193.3,1196.7 L193.3,1199.4 L197.2,1199.4 L197.2,1202.2 L200.6,1202.2 L200.6,1204.5 L203.9,1204.5 L203.9,1206.7 L207.3,1206.7 L207.3,1208.9 L211.2,1208.9 L211.2,1211.7 L215.1,1211.7 L215.1,1214.5 L219.0,1214.5 L219.0,1217.3 L226.2,1217.3 L226.2,1217.8 L233.5,1217.8 L233.5,1218.4 L240.7,1218.4 L240.7,1218.9 L242.9,1218.9 L242.9,1221.9 L245.2,1221.9 L245.2,1225.0 L247.4,1225.0 L247.4,1228.0 L254.1,1228.0 L254.1,1228.6 L260.8,1228.6 L260.8,1229.3 L267.4,1229.3 L267.4,1230.0 L270.8,1230.0 L270.8,1231.1 L274.1,1231.1 L274.1,1232.2 L277.5,1232.2 L277.5,1233.3 L281.9,1233.3 L281.9,1234.4 L286.4,1234.4 L286.4,1235.5 L290.8,1235.5 L290.8,1236.7 L294.2,1236.7 L294.2,1238.2 L297.5,1238.2 L297.5,1239.8 L300.9,1239.8 L300.9,1241.3 L309.8,1241.3 L309.8,1241.4 L318.7,1241.4 L318.7,1241.6 L327.6,1241.6 L327.6,1241.7 L329.3,1241.7 L329.3,1249.0 L367.7,1249.0 L370.1,1249.0 L370.1,1260.7 L411.2,1260.7" fill="none" stroke="#4a4a4a" stroke-width="0.9" stroke-linejoin="miter"/>
<path d="M94.9,1061.9h4M96.9,1059.3v5.2M98.3,1064.4h4M100.3,1061.8v5.2M102.3,1067.4h4M104.3,1064.8v5.2M105.6,1070.0h4M107.6,1067.4v5.2M109.0,1072.7h4M111.0,1070.1v5.2M112.3,1079.8h4M114.3,1077.2v5.2M115.7,1088.2h4M117.7,1085.6v5.2M123.4,1102.9h4M125.4,1100.3v5.2M126.0,1107.2h4M128.0,1104.6v5.2M128.4,1111.0h4M130.4,1108.4v5.2M131.1,1115.0h4M133.1,1112.4v5.2M133.4,1118.3h4M135.4,1115.7v5.2M135.7,1121.6h4M137.7,1119.0v5.2M138.4,1125.3h4M140.4,1122.7v5.2M141.1,1127.5h4M143.1,1124.9v5.2M143.4,1129.3h4M145.4,1126.7v5.2M145.8,1131.2h4M147.8,1128.6v5.2M148.4,1137.0h4M150.4,1134.4v5.2M151.1,1145.1h4M153.1,1142.5v5.2M160.1,1162.9h4M162.1,1160.3v5.2M162.5,1164.1h4M164.5,1161.5v5.2M165.2,1165.5h4M167.2,1162.9v5.2M167.8,1166.8h4M169.8,1164.2v5.2M170.2,1170.5h4M172.2,1167.9v5.2M172.5,1175.1h4M174.5,1172.5v5.2M175.2,1180.5h4M177.2,1177.9v5.2M177.9,1184.8h4M179.9,1182.2v5.2M181.2,1190.1h4M183.2,1187.5v5.2M185.2,1195.1h4M187.2,1192.5v5.2M190.2,1198.6h4M192.2,1196.0v5.2M195.2,1202.2h4M197.2,1199.6v5.2M200.3,1205.6h4M202.3,1203.0v5.2M205.3,1208.9h4M207.3,1206.3v5.2M210.3,1212.5h4M212.3,1209.9v5.2M213.6,1214.9h4M215.6,1212.3v5.2M217.0,1217.3h4M219.0,1214.7v5.2M219.3,1217.4h4M221.3,1214.8v5.2M228.7,1218.2h4M230.7,1215.6v5.2M232.0,1218.4h4M234.0,1215.8v5.2M235.4,1218.7h4M237.4,1216.1v5.2M238.7,1218.9h4M240.7,1216.3v5.2M245.4,1228.0h4M247.4,1225.4v5.2M262.1,1229.6h4M264.1,1227.0v5.2M275.5,1233.3h4M277.5,1230.7v5.2M285.5,1235.8h4M287.5,1233.2v5.2M290.5,1237.4h4M292.5,1234.8v5.2M292.2,1238.2h4M294.2,1235.6v5.2M296.2,1240.1h4M298.2,1237.5v5.2M305.6,1241.4h4M307.6,1238.8v5.2M313.9,1241.5h4M315.9,1238.9v5.2M323.9,1241.7h4M325.9,1239.1v5.2M365.1,1249.0h4M367.1,1246.4v5.2M408.5,1260.7h4M410.5,1258.1v5.2" fill="none" stroke="#333" stroke-width="0.9"/>
<path d="M94.6,1060.1 L98.7,1060.1 L98.7,1061.8 L102.9,1061.8 L102.9,1063.5 L107.0,1063.5 L107.0,1065.2 L109.8,1065.2 L109.8,1067.9 L112.5,1067.9 L112.5,1070.7 L115.3,1070.7 L115.3,1073.5 L117.0,1073.5 L117.0,1079.1 L118.7,1079.1 L118.7,1084.7 L120.3,1084.7 L120.3,1090.2 L122.6,1090.2 L122.6,1094.7 L124.8,1094.7 L124.8,1099.1 L127.0,1099.1 L127.0,1103.6 L128.7,1103.6 L128.7,1110.3 L130.4,1110.3 L130.4,1117.0 L132.0,1117.0 L132.0,1123.7 L134.3,1123.7 L134.3,1128.7 L136.5,1128.7 L136.5,1133.7 L138.7,1133.7 L138.7,1138.7 L141.0,1138.7 L141.0,1143.7 L143.2,1143.7 L143.2,1148.7 L145.4,1148.7 L145.4,1153.8 L147.7,1153.8 L147.7,1157.1 L149.9,1157.1 L149.9,1160.4 L152.1,1160.4 L152.1,1163.8 L154.3,1163.8 L154.3,1167.7 L156.6,1167.7 L156.6,1171.6 L158.8,1171.6 L158.8,1175.5 L160.5,1175.5 L160.5,1179.4 L162.1,1179.4 L162.1,1183.3 L163.8,1183.3 L163.8,1187.2 L166.0,1187.2 L166.0,1191.1 L168.3,1191.1 L168.3,1195.0 L170.5,1195.0 L170.5,1198.9 L173.8,1198.9 L173.8,1200.6 L177.2,1200.6 L177.2,1202.2 L180.5,1202.2 L180.5,1203.9 L183.3,1203.9 L183.3,1206.1 L186.1,1206.1 L186.1,1208.4 L188.9,1208.4 L188.9,1210.6 L191.1,1210.6 L191.1,1213.4 L193.3,1213.4 L193.3,1216.2 L195.6,1216.2 L195.6,1218.9 L198.9,1218.9 L198.9,1220.6 L202.3,1220.6 L202.3,1222.3 L205.6,1222.3 L205.6,1224.0 L207.8,1224.0 L207.8,1226.7 L210.1,1226.7 L210.1,1229.5 L212.3,1229.5 L212.3,1232.3 L215.1,1232.3 L215.1,1234.5 L217.9,1234.5 L217.9,1236.8 L220.6,1236.8 L220.6,1239.0 L223.4,1239.0 L223.4,1241.2 L226.2,1241.2 L226.2,1243.5 L229.0,1243.5 L229.0,1245.7 L265.8,1245.7 L267.4,1245.7 L267.4,1250.0 L320.3,1250.0" fill="none" stroke="#e85a5c" stroke-width="0.9" stroke-linejoin="miter"/>
<path d="M94.9,1061.1h4M96.9,1058.5v5.2M98.3,1062.4h4M100.3,1059.8v5.2M102.3,1064.1h4M104.3,1061.5v5.2M106.6,1066.8h4M108.6,1064.2v5.2M110.0,1070.2h4M112.0,1067.6v5.2M113.3,1073.5h4M115.3,1070.9v5.2M116.7,1084.7h4M118.7,1082.1v5.2M121.0,1095.6h4M123.0,1093.0v5.2M123.7,1100.9h4M125.7,1098.3v5.2M126.4,1109.0h4M128.4,1106.4v5.2M129.0,1119.7h4M131.0,1117.1v5.2M131.7,1127.4h4M133.7,1124.8v5.2M134.4,1133.4h4M136.4,1130.8v5.2M137.1,1139.5h4M139.1,1136.9v5.2M139.7,1145.5h4M141.7,1142.9v5.2M142.4,1151.5h4M144.4,1148.9v5.2M145.1,1156.3h4M147.1,1153.7v5.2M147.8,1160.3h4M149.8,1157.7v5.2M150.4,1164.4h4M152.4,1161.8v5.2M153.1,1169.0h4M155.1,1166.4v5.2M155.8,1173.7h4M157.8,1171.1v5.2M158.5,1179.4h4M160.5,1176.8v5.2M161.1,1185.6h4M163.1,1183.0v5.2M163.8,1190.7h4M165.8,1188.1v5.2M170.2,1199.7h4M172.2,1197.1v5.2M173.5,1201.4h4M175.5,1198.8v5.2M176.9,1203.1h4M178.9,1200.5v5.2M180.2,1205.2h4M182.2,1202.6v5.2M183.5,1207.9h4M185.5,1205.3v5.2M190.2,1214.8h4M192.2,1212.2v5.2M198.6,1221.4h4M200.6,1218.8v5.2M233.7,1245.7h4M235.7,1243.1v5.2M242.0,1245.7h4M244.0,1243.1v5.2M244.7,1245.7h4M246.7,1243.1v5.2M247.1,1245.7h4M249.1,1243.1v5.2M254.7,1245.7h4M256.7,1243.1v5.2M275.5,1250.0h4M277.5,1247.4v5.2M291.5,1250.0h4M293.5,1247.4v5.2M312.2,1250.0h4M314.2,1247.4v5.2M316.3,1250.0h4M318.3,1247.4v5.2" fill="none" stroke="#e03034" stroke-width="0.9"/>
<rect x="94.5" y="1051.3" width="329.1" height="230.6" fill="none" stroke="#111" stroke-width="3.1"/>
<line x1="83.3" y1="1060.1" x2="94.5" y2="1060.1" stroke="#111" stroke-width="2.1" stroke-linecap="butt"/>
<text transform="translate(80.1,1060.6) rotate(-90)" font-size="15.2" fill="#111" text-anchor="middle" textLength="20.8" lengthAdjust="spacingAndGlyphs">1.0</text>
<line x1="83.3" y1="1102.6" x2="94.5" y2="1102.6" stroke="#111" stroke-width="2.1" stroke-linecap="butt"/>
<text transform="translate(80.1,1103.1) rotate(-90)" font-size="15.2" fill="#111" text-anchor="middle" textLength="20.8" lengthAdjust="spacingAndGlyphs">0.8</text>
<line x1="83.3" y1="1144.7" x2="94.5" y2="1144.7" stroke="#111" stroke-width="2.1" stroke-linecap="butt"/>
<text transform="translate(80.1,1145.2) rotate(-90)" font-size="15.2" fill="#111" text-anchor="middle" textLength="20.8" lengthAdjust="spacingAndGlyphs">0.6</text>
<line x1="83.3" y1="1187.2" x2="94.5" y2="1187.2" stroke="#111" stroke-width="2.1" stroke-linecap="butt"/>
<text transform="translate(80.1,1187.7) rotate(-90)" font-size="15.2" fill="#111" text-anchor="middle" textLength="20.8" lengthAdjust="spacingAndGlyphs">0.4</text>
<line x1="83.3" y1="1230.0" x2="94.5" y2="1230.0" stroke="#111" stroke-width="2.1" stroke-linecap="butt"/>
<text transform="translate(80.1,1230.5) rotate(-90)" font-size="15.2" fill="#111" text-anchor="middle" textLength="20.8" lengthAdjust="spacingAndGlyphs">0.2</text>
<text transform="translate(53.0,1171.5) rotate(-90)" font-size="16.5" fill="#111" text-anchor="middle" textLength="225.5" lengthAdjust="spacingAndGlyphs">Progression-free survival rate</text>
<line x1="177.3" y1="1281.9" x2="177.3" y2="1290.5" stroke="#111" stroke-width="2.8" stroke-linecap="butt"/>
<text x="178.6" y="1302.4" font-size="15.2" fill="#111" text-anchor="middle" textLength="16.2" lengthAdjust="spacingAndGlyphs">50</text>
<line x1="259.6" y1="1281.9" x2="259.6" y2="1290.5" stroke="#111" stroke-width="2.8" stroke-linecap="butt"/>
<text x="259.6" y="1302.4" font-size="15.2" fill="#111" text-anchor="middle" textLength="23.6" lengthAdjust="spacingAndGlyphs">100</text>
<line x1="340.0" y1="1281.9" x2="340.0" y2="1290.5" stroke="#111" stroke-width="2.8" stroke-linecap="butt"/>
<text x="341.4" y="1302.4" font-size="15.2" fill="#111" text-anchor="middle" textLength="23.6" lengthAdjust="spacingAndGlyphs">150</text>
<text x="170.4" y="1326.0" font-size="15" fill="#111" text-anchor="start" textLength="165.2" lengthAdjust="spacingAndGlyphs">Follow up time (months)</text>
<text x="285.8" y="1065.2" font-size="15.2" fill="#111" text-anchor="start" textLength="123.7" lengthAdjust="spacingAndGlyphs">HR=1.27 (1.01-1.6)</text>
<text x="285.8" y="1085.0" font-size="15.2" fill="#111" text-anchor="start" textLength="53.5" lengthAdjust="spacingAndGlyphs">p=0.039</text>
<text x="285.8" y="1107.7" font-size="15.2" fill="#111" text-anchor="start" textLength="75.2" lengthAdjust="spacingAndGlyphs">Stage III+IV</text>
<rect x="102.6" y="1251.2" width="22.8" height="4.8" fill="#111"/>
<rect x="102.1" y="1273.1" width="22.8" height="4.6" fill="#e8171c"/>
<text x="127.0" y="1255.7" font-size="14.8" fill="#111" text-anchor="start" textLength="78.6" lengthAdjust="spacingAndGlyphs">Low(n=244)</text>
<text x="127.0" y="1275.8" font-size="14.8" fill="#e0262a" text-anchor="start" textLength="80.9" lengthAdjust="spacingAndGlyphs">High(n=243)</text>
<path d="M543.0,1057.2 L582.7,1057.2 L582.7,1071.2 L590.8,1071.2 L590.8,1087.3 L694.1,1087.3 L694.1,1104.0 L702.4,1104.0 L702.4,1120.7 L718.1,1120.7 L718.1,1153.8 L726.2,1153.8 L726.2,1170.5 L742.2,1170.5 L742.2,1220.7 L750.2,1220.7 L750.2,1237.0 L829.5,1237.0 L829.5,1254.1 L853.9,1254.1 L853.9,1270.1" fill="none" stroke="#4a4a4a" stroke-width="0.9" stroke-linejoin="miter"/>
<path d="M684.4,1087.3h4M686.4,1084.7v5.2" fill="none" stroke="#333" stroke-width="0.9"/>
<path d="M543.0,1071.2 L559.0,1071.2 L559.0,1103.0 L567.0,1103.0 L567.0,1133.8 L582.7,1133.8 L582.7,1163.5 L590.8,1163.5 L590.8,1179.2 L599.1,1179.2 L599.1,1194.3 L607.2,1194.3 L607.2,1209.6 L750.2,1209.6 L750.2,1240.1 L813.8,1240.1 L813.8,1270.1" fill="none" stroke="#e85a5c" stroke-width="0.9" stroke-linejoin="miter"/>
<path d="M684.4,1209.6h4M686.4,1207.0v5.2" fill="none" stroke="#e03034" stroke-width="0.9"/>
<rect x="541.9" y="1048.6" width="325.0" height="230.4" fill="none" stroke="#111" stroke-width="3.1"/>
<line x1="530.7" y1="1057.2" x2="541.9" y2="1057.2" stroke="#111" stroke-width="2.1" stroke-linecap="butt"/>
<text transform="translate(523.4,1057.7) rotate(-90)" font-size="15.2" fill="#111" text-anchor="middle" textLength="20.8" lengthAdjust="spacingAndGlyphs">1.0</text>
<line x1="530.7" y1="1100.0" x2="541.9" y2="1100.0" stroke="#111" stroke-width="2.1" stroke-linecap="butt"/>
<text transform="translate(523.4,1100.5) rotate(-90)" font-size="15.2" fill="#111" text-anchor="middle" textLength="20.8" lengthAdjust="spacingAndGlyphs">0.8</text>
<line x1="530.7" y1="1142.1" x2="541.9" y2="1142.1" stroke="#111" stroke-width="2.1" stroke-linecap="butt"/>
<text transform="translate(523.4,1142.6) rotate(-90)" font-size="15.2" fill="#111" text-anchor="middle" textLength="20.8" lengthAdjust="spacingAndGlyphs">0.6</text>
<line x1="530.7" y1="1184.9" x2="541.9" y2="1184.9" stroke="#111" stroke-width="2.1" stroke-linecap="butt"/>
<text transform="translate(523.4,1185.4) rotate(-90)" font-size="15.2" fill="#111" text-anchor="middle" textLength="20.8" lengthAdjust="spacingAndGlyphs">0.4</text>
<line x1="530.7" y1="1227.7" x2="541.9" y2="1227.7" stroke="#111" stroke-width="2.1" stroke-linecap="butt"/>
<text transform="translate(523.4,1228.2) rotate(-90)" font-size="15.2" fill="#111" text-anchor="middle" textLength="20.8" lengthAdjust="spacingAndGlyphs">0.2</text>
<text transform="translate(502.5,1172.5) rotate(-90)" font-size="16.5" fill="#111" text-anchor="middle" textLength="225.5" lengthAdjust="spacingAndGlyphs">Progression-free survival rate</text>
<line x1="622.6" y1="1279.0" x2="622.6" y2="1287.6" stroke="#111" stroke-width="2.8" stroke-linecap="butt"/>
<text x="623.6" y="1302.2" font-size="15.2" fill="#111" text-anchor="middle" textLength="16.2" lengthAdjust="spacingAndGlyphs">50</text>
<line x1="702.5" y1="1279.0" x2="702.5" y2="1287.6" stroke="#111" stroke-width="2.8" stroke-linecap="butt"/>
<text x="704.5" y="1302.2" font-size="15.2" fill="#111" text-anchor="middle" textLength="23.6" lengthAdjust="spacingAndGlyphs">100</text>
<line x1="781.6" y1="1279.0" x2="781.6" y2="1287.6" stroke="#111" stroke-width="2.8" stroke-linecap="butt"/>
<text x="782.0" y="1302.2" font-size="15.2" fill="#111" text-anchor="middle" textLength="23.6" lengthAdjust="spacingAndGlyphs">150</text>
<text x="611.4" y="1326.0" font-size="15" fill="#111" text-anchor="start" textLength="165.2" lengthAdjust="spacingAndGlyphs">Follow up time (months)</text>
<text x="724.2" y="1065.2" font-size="15.2" fill="#111" text-anchor="start" textLength="132.4" lengthAdjust="spacingAndGlyphs">HR=2.28 (0.98-5.28)</text>
<text x="724.2" y="1085.4" font-size="15.2" fill="#111" text-anchor="start" textLength="53.2" lengthAdjust="spacingAndGlyphs">p=0.049</text>
<text x="724.2" y="1106.1" font-size="15.2" fill="#111" text-anchor="start" textLength="64.2" lengthAdjust="spacingAndGlyphs">paclitaxel</text>
<rect x="552.7" y="1251.2" width="22.7" height="4.8" fill="#111"/>
<rect x="552.2" y="1273.1" width="22.7" height="4.6" fill="#e8171c"/>
<text x="577.7" y="1255.8" font-size="14.8" fill="#111" text-anchor="start" textLength="70.2" lengthAdjust="spacingAndGlyphs">Low(n=14)</text>
<text x="577.7" y="1275.2" font-size="14.8" fill="#e0262a" text-anchor="start" textLength="72.9" lengthAdjust="spacingAndGlyphs">High(n=14)</text>
</svg>
</body></html>
